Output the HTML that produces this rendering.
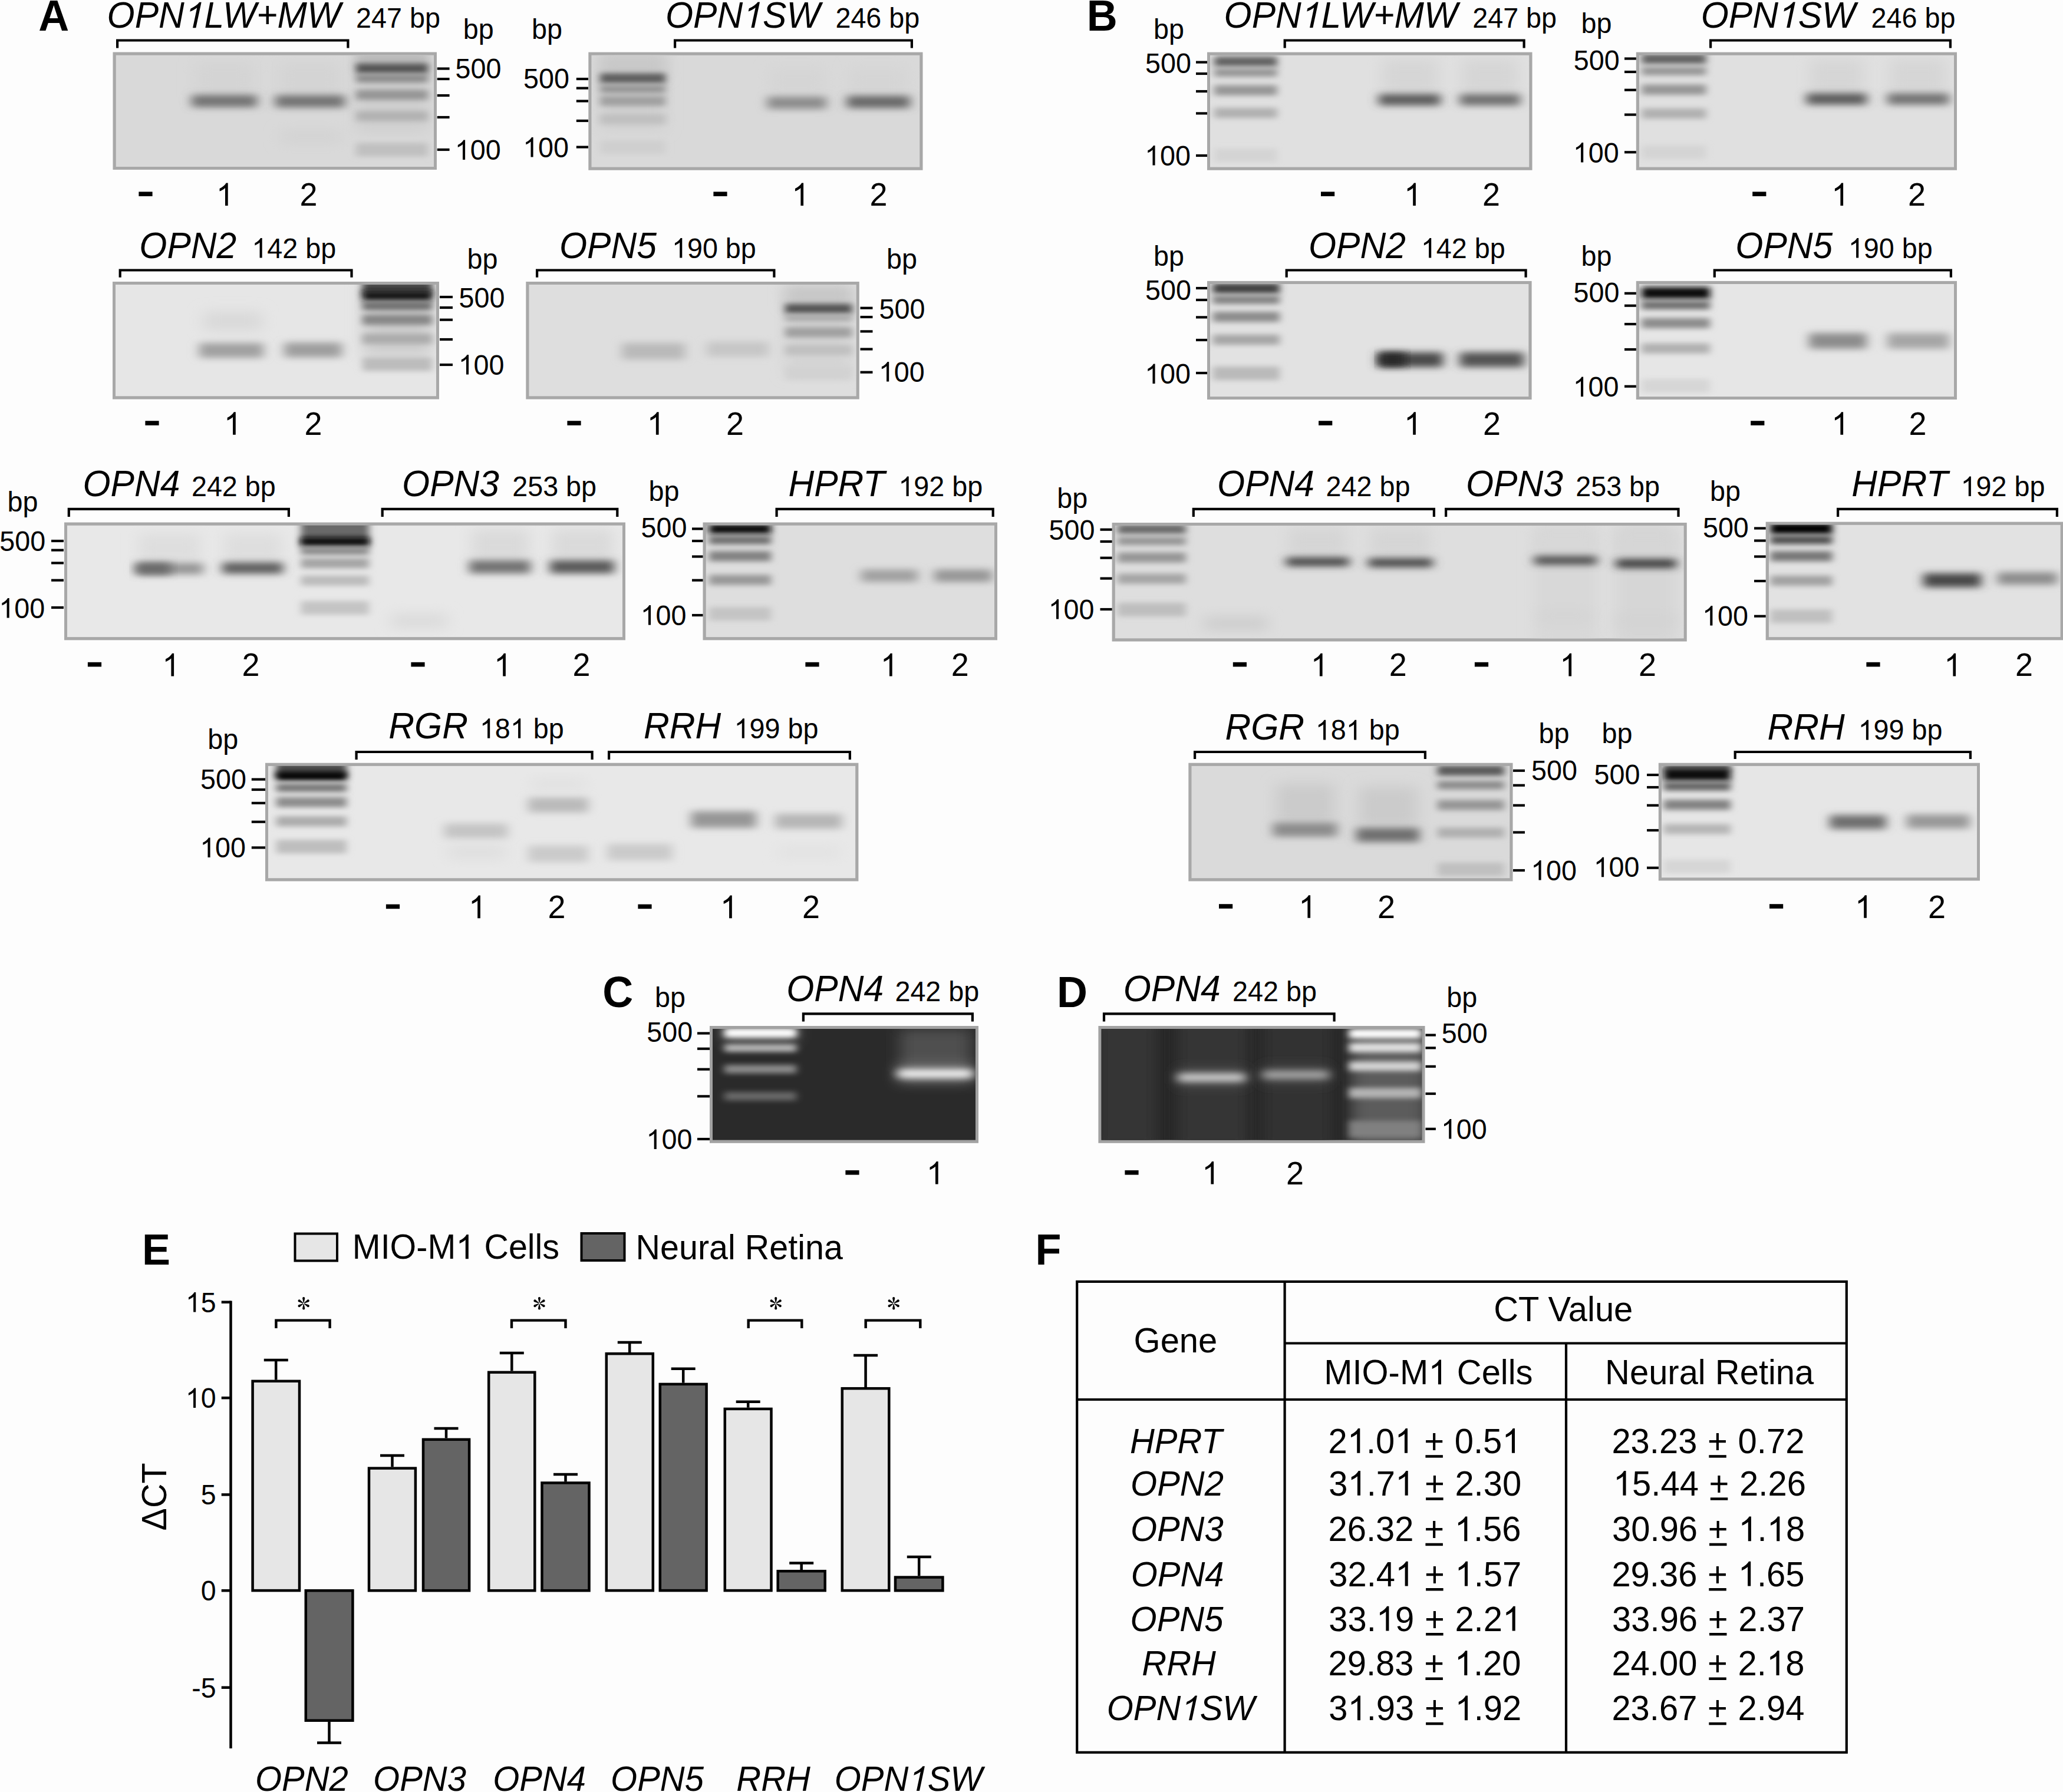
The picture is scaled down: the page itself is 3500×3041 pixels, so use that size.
<!DOCTYPE html>
<html><head><meta charset="utf-8"><title>Figure</title>
<style>html,body{margin:0;padding:0;background:#fff}svg{display:block}text{font-family:"Liberation Sans",sans-serif}</style>
</head><body>
<svg width="3500" height="3041" viewBox="0 0 3500 3041">
<defs>
<filter id="b3" x="-20%" y="-150%" width="140%" height="400%"><feGaussianBlur stdDeviation="6.5 4.2"/></filter>
<filter id="b4" x="-20%" y="-150%" width="140%" height="400%"><feGaussianBlur stdDeviation="9 6"/></filter>
<filter id="b6" x="-30%" y="-100%" width="160%" height="300%"><feGaussianBlur stdDeviation="13 11"/></filter>
</defs>
<rect width="3500" height="3041" fill="#fdfdfd"/>
<rect x="191.5" y="88.5" width="549.5" height="199.5" fill="#a8a8a8"/>
<clipPath id="c1"><rect x="196.5" y="93.5" width="539.5" height="189.5"/></clipPath>
<g clip-path="url(#c1)">
<rect x="196.5" y="93.5" width="539.5" height="189.5" fill="rgb(217,217,217)"/>
<rect x="604.0" y="75.0" width="122.0" height="150.0" fill="rgb(207,207,207)" filter="url(#b6)"/>
<rect x="604.0" y="85.6" width="122.0" height="30.8" fill="rgb(188,188,188)" filter="url(#b4)"/>
<rect x="604.0" y="107.8" width="122.0" height="17.4" fill="rgb(85,85,85)" filter="url(#b3)"/>
<rect x="604.0" y="125.8" width="122.0" height="14.5" fill="rgb(140,140,140)" filter="url(#b3)"/>
<rect x="604.0" y="152.3" width="122.0" height="17.4" fill="rgb(150,150,150)" filter="url(#b3)"/>
<rect x="604.0" y="188.3" width="122.0" height="17.4" fill="rgb(178,178,178)" filter="url(#b3)"/>
<rect x="604.0" y="242.4" width="122.0" height="23.2" fill="rgb(192,192,192)" filter="url(#b3)"/>
<rect x="330.0" y="105.0" width="102.0" height="60.0" fill="rgb(212,212,212)" filter="url(#b6)"/>
<rect x="472.0" y="105.0" width="108.0" height="60.0" fill="rgb(212,212,212)" filter="url(#b6)"/>
<rect x="325.0" y="161.0" width="111.0" height="21.0" fill="rgb(115,115,115)" filter="url(#b4)"/>
<rect x="467.0" y="161.5" width="118.0" height="21.0" fill="rgb(115,115,115)" filter="url(#b4)"/>
<rect x="475.0" y="222.0" width="105.0" height="20.0" fill="rgb(210,210,210)" filter="url(#b6)"/>
</g>
<line x1="741.7" y1="116.5" x2="762.6" y2="116.5" stroke="#000" stroke-width="4.2" stroke-linecap="butt"/>
<line x1="741.7" y1="134.0" x2="762.6" y2="134.0" stroke="#000" stroke-width="4.2" stroke-linecap="butt"/>
<line x1="741.7" y1="162.0" x2="762.6" y2="162.0" stroke="#000" stroke-width="4.2" stroke-linecap="butt"/>
<line x1="741.7" y1="199.0" x2="762.6" y2="199.0" stroke="#000" stroke-width="4.2" stroke-linecap="butt"/>
<line x1="741.7" y1="254.0" x2="762.6" y2="254.0" stroke="#000" stroke-width="4.2" stroke-linecap="butt"/>
<text transform="translate(785.8 66.0) scale(0.9756 1)" font-family="Liberation Sans, sans-serif" font-size="47.9" fill="#000">bp</text>
<text transform="translate(772.6 132.5) scale(0.9756 1)" font-family="Liberation Sans, sans-serif" font-size="47.9" fill="#000">500</text>
<path d="M763 0H583V1147Q518 1085 412 1023Q307 961 223 930V1104Q374 1175 487 1276Q600 1377 647 1472H763Z" fill="#000" transform="translate(771.7 271.1) scale(0.02280 -0.02280)"/>
<text transform="translate(797.7 271.1) scale(0.9756 1)" font-family="Liberation Sans, sans-serif" font-size="47.9" fill="#000">00</text>
<text transform="translate(181.6 47.3) scale(0.9756 1)" font-family="Liberation Sans, sans-serif" font-size="62.1" font-style="italic" fill="#000">OPN</text>
<path d="M763 0H583V1147Q518 1085 412 1023Q307 961 223 930V1104Q374 1175 487 1276Q600 1377 647 1472H763Z" fill="#000" transform="translate(309.8 47.3) skewX(-12) scale(0.02959 -0.02959)"/>
<text transform="translate(346.6 47.3) scale(0.9756 1)" font-family="Liberation Sans, sans-serif" font-size="62.1" font-style="italic" fill="#000">LW+MW</text>
<text transform="translate(604.0 47.3) scale(0.9756 1)" font-family="Liberation Sans, sans-serif" font-size="47.9" fill="#000">247 bp</text>
<path d="M199.1 81.6V68.5H590.4V81.6" fill="none" stroke="#000" stroke-width="4.2" stroke-linejoin="miter"/>
<rect x="235.4" y="325.4" width="23.2" height="7.6" fill="#000"/>
<path d="M763 0H583V1147Q518 1085 412 1023Q307 961 223 930V1104Q374 1175 487 1276Q600 1377 647 1472H763Z" transform="translate(366.7 349.0) scale(0.02622 -0.02622)"/>
<text transform="translate(508.6 349.0) scale(0.9756 1)" font-family="Liberation Sans, sans-serif" font-size="55.3" fill="#000">2</text>
<rect x="998.3" y="88.6" width="567.2" height="200.2" fill="#a8a8a8"/>
<clipPath id="c2"><rect x="1003.3" y="93.6" width="557.2" height="190.2"/></clipPath>
<g clip-path="url(#c2)">
<rect x="1003.3" y="93.6" width="557.2" height="190.2" fill="rgb(217,217,217)"/>
<rect x="1018.0" y="80.0" width="111.0" height="140.0" fill="rgb(208,208,208)" filter="url(#b6)"/>
<rect x="1018.0" y="94.0" width="111.0" height="36.0" fill="rgb(200,200,200)" filter="url(#b6)"/>
<rect x="1018.0" y="124.3" width="111.0" height="17.4" fill="rgb(95,95,95)" filter="url(#b3)"/>
<rect x="1018.0" y="143.8" width="111.0" height="14.5" fill="rgb(150,150,150)" filter="url(#b3)"/>
<rect x="1018.0" y="162.5" width="111.0" height="17.4" fill="rgb(160,160,160)" filter="url(#b3)"/>
<rect x="1018.0" y="193.5" width="111.0" height="17.4" fill="rgb(192,192,192)" filter="url(#b3)"/>
<rect x="1018.0" y="238.0" width="111.0" height="23.2" fill="rgb(207,207,207)" filter="url(#b3)"/>
<rect x="1305.0" y="115.0" width="95.0" height="50.0" fill="rgb(213,213,213)" filter="url(#b6)"/>
<rect x="1440.0" y="115.0" width="100.0" height="50.0" fill="rgb(213,213,213)" filter="url(#b6)"/>
<rect x="1301.6" y="164.0" width="100.4" height="21.0" fill="rgb(140,140,140)" filter="url(#b4)"/>
<rect x="1436.8" y="162.5" width="106.9" height="21.0" fill="rgb(105,105,105)" filter="url(#b4)"/>
</g>
<line x1="977.8" y1="134.0" x2="998.0" y2="134.0" stroke="#000" stroke-width="4.2" stroke-linecap="butt"/>
<line x1="977.8" y1="149.6" x2="998.0" y2="149.6" stroke="#000" stroke-width="4.2" stroke-linecap="butt"/>
<line x1="977.8" y1="171.5" x2="998.0" y2="171.5" stroke="#000" stroke-width="4.2" stroke-linecap="butt"/>
<line x1="977.8" y1="205.0" x2="998.0" y2="205.0" stroke="#000" stroke-width="4.2" stroke-linecap="butt"/>
<line x1="977.8" y1="249.6" x2="998.0" y2="249.6" stroke="#000" stroke-width="4.2" stroke-linecap="butt"/>
<text transform="translate(902.0 66.4) scale(0.9756 1)" font-family="Liberation Sans, sans-serif" font-size="47.9" fill="#000">bp</text>
<text transform="translate(888.0 149.5) scale(0.9756 1)" font-family="Liberation Sans, sans-serif" font-size="47.9" fill="#000">500</text>
<path d="M763 0H583V1147Q518 1085 412 1023Q307 961 223 930V1104Q374 1175 487 1276Q600 1377 647 1472H763Z" fill="#000" transform="translate(887.2 266.5) scale(0.02280 -0.02280)"/>
<text transform="translate(913.1 266.5) scale(0.9756 1)" font-family="Liberation Sans, sans-serif" font-size="47.9" fill="#000">00</text>
<text transform="translate(1129.0 47.0) scale(0.9756 1)" font-family="Liberation Sans, sans-serif" font-size="62.1" font-style="italic" fill="#000">OPN</text>
<path d="M763 0H583V1147Q518 1085 412 1023Q307 961 223 930V1104Q374 1175 487 1276Q600 1377 647 1472H763Z" fill="#000" transform="translate(1257.2 47.0) skewX(-12) scale(0.02959 -0.02959)"/>
<text transform="translate(1294.0 47.0) scale(0.9756 1)" font-family="Liberation Sans, sans-serif" font-size="62.1" font-style="italic" fill="#000">SW</text>
<text transform="translate(1417.4 47.0) scale(0.9756 1)" font-family="Liberation Sans, sans-serif" font-size="47.9" fill="#000">246 bp</text>
<path d="M1145.1 81.6V68.5H1546.9V81.6" fill="none" stroke="#000" stroke-width="4.2" stroke-linejoin="miter"/>
<rect x="1210.4" y="325.4" width="23.2" height="7.6" fill="#000"/>
<path d="M763 0H583V1147Q518 1085 412 1023Q307 961 223 930V1104Q374 1175 487 1276Q600 1377 647 1472H763Z" transform="translate(1343.1 349.0) scale(0.02622 -0.02622)"/>
<text transform="translate(1475.5 349.0) scale(0.9756 1)" font-family="Liberation Sans, sans-serif" font-size="55.3" fill="#000">2</text>
<rect x="191.0" y="478.0" width="554.0" height="199.5" fill="#a8a8a8"/>
<clipPath id="c3"><rect x="196.0" y="483.0" width="544.0" height="189.5"/></clipPath>
<g clip-path="url(#c3)">
<rect x="196.0" y="483.0" width="544.0" height="189.5" fill="rgb(230,230,230)"/>
<rect x="615.0" y="475.0" width="118.0" height="130.0" fill="rgb(205,205,205)" filter="url(#b6)"/>
<rect x="615.0" y="476.4" width="118.0" height="23.2" fill="rgb(72,72,72)" filter="url(#b3)"/>
<rect x="615.0" y="493.3" width="118.0" height="17.4" fill="rgb(18,18,18)" filter="url(#b3)"/>
<rect x="615.0" y="511.8" width="118.0" height="14.5" fill="rgb(110,110,110)" filter="url(#b3)"/>
<rect x="615.0" y="533.9" width="118.0" height="17.4" fill="rgb(135,135,135)" filter="url(#b3)"/>
<rect x="615.0" y="566.3" width="118.0" height="17.4" fill="rgb(172,172,172)" filter="url(#b3)"/>
<rect x="615.0" y="606.4" width="118.0" height="23.2" fill="rgb(188,188,188)" filter="url(#b3)"/>
<rect x="345.0" y="530.0" width="100.0" height="30.0" fill="rgb(216,216,216)" filter="url(#b6)"/>
<rect x="338.0" y="582.0" width="109.0" height="25.2" fill="rgb(160,160,160)" filter="url(#b4)"/>
<rect x="482.0" y="581.2" width="98.0" height="25.2" fill="rgb(158,158,158)" filter="url(#b4)"/>
</g>
<line x1="746.0" y1="504.0" x2="768.0" y2="504.0" stroke="#000" stroke-width="4.2" stroke-linecap="butt"/>
<line x1="746.0" y1="522.0" x2="768.0" y2="522.0" stroke="#000" stroke-width="4.2" stroke-linecap="butt"/>
<line x1="746.0" y1="542.7" x2="768.0" y2="542.7" stroke="#000" stroke-width="4.2" stroke-linecap="butt"/>
<line x1="746.0" y1="576.0" x2="768.0" y2="576.0" stroke="#000" stroke-width="4.2" stroke-linecap="butt"/>
<line x1="746.0" y1="619.0" x2="768.0" y2="619.0" stroke="#000" stroke-width="4.2" stroke-linecap="butt"/>
<text transform="translate(792.5 456.0) scale(0.9756 1)" font-family="Liberation Sans, sans-serif" font-size="47.9" fill="#000">bp</text>
<text transform="translate(778.5 522.0) scale(0.9756 1)" font-family="Liberation Sans, sans-serif" font-size="47.9" fill="#000">500</text>
<path d="M763 0H583V1147Q518 1085 412 1023Q307 961 223 930V1104Q374 1175 487 1276Q600 1377 647 1472H763Z" fill="#000" transform="translate(777.7 635.5) scale(0.02280 -0.02280)"/>
<text transform="translate(803.6 635.5) scale(0.9756 1)" font-family="Liberation Sans, sans-serif" font-size="47.9" fill="#000">00</text>
<text transform="translate(236.3 437.6) scale(0.9756 1)" font-family="Liberation Sans, sans-serif" font-size="62.1" font-style="italic" fill="#000">OPN2</text>
<path d="M763 0H583V1147Q518 1085 412 1023Q307 961 223 930V1104Q374 1175 487 1276Q600 1377 647 1472H763Z" fill="#000" transform="translate(427.3 437.6) scale(0.02280 -0.02280)"/>
<text transform="translate(453.3 437.6) scale(0.9756 1)" font-family="Liberation Sans, sans-serif" font-size="47.9" fill="#000">42 bp</text>
<path d="M203.7 470.7V458.5H596.5V470.7" fill="none" stroke="#000" stroke-width="4.2" stroke-linejoin="miter"/>
<rect x="246.4" y="714.2" width="23.2" height="7.6" fill="#000"/>
<path d="M763 0H583V1147Q518 1085 412 1023Q307 961 223 930V1104Q374 1175 487 1276Q600 1377 647 1472H763Z" transform="translate(379.8 737.8) scale(0.02622 -0.02622)"/>
<text transform="translate(516.4 737.8) scale(0.9756 1)" font-family="Liberation Sans, sans-serif" font-size="55.3" fill="#000">2</text>
<rect x="892.3" y="478.0" width="565.5" height="199.5" fill="#a8a8a8"/>
<clipPath id="c4"><rect x="897.3" y="483.0" width="555.5" height="189.5"/></clipPath>
<g clip-path="url(#c4)">
<rect x="897.3" y="483.0" width="555.5" height="189.5" fill="rgb(222,222,222)"/>
<rect x="1332.0" y="485.0" width="113.5" height="150.0" fill="rgb(212,212,212)" filter="url(#b6)"/>
<rect x="1332.0" y="485.0" width="113.5" height="34.0" fill="rgb(198,198,198)" filter="url(#b6)"/>
<rect x="1332.0" y="515.5" width="113.5" height="17.4" fill="rgb(85,85,85)" filter="url(#b3)"/>
<rect x="1332.0" y="533.7" width="113.5" height="11.6" fill="rgb(170,170,170)" filter="url(#b3)"/>
<rect x="1332.0" y="555.2" width="113.5" height="17.4" fill="rgb(160,160,160)" filter="url(#b3)"/>
<rect x="1332.0" y="585.3" width="113.5" height="17.4" fill="rgb(192,192,192)" filter="url(#b3)"/>
<rect x="1332.0" y="621.6" width="113.5" height="23.2" fill="rgb(210,210,210)" filter="url(#b3)"/>
<rect x="1055.0" y="582.0" width="107.0" height="28.0" fill="rgb(185,185,185)" filter="url(#b4)"/>
<rect x="1199.0" y="579.9" width="104.7" height="25.2" fill="rgb(198,198,198)" filter="url(#b4)"/>
</g>
<line x1="1459.5" y1="522.7" x2="1480.5" y2="522.7" stroke="#000" stroke-width="4.2" stroke-linecap="butt"/>
<line x1="1459.5" y1="538.0" x2="1480.5" y2="538.0" stroke="#000" stroke-width="4.2" stroke-linecap="butt"/>
<line x1="1459.5" y1="562.4" x2="1480.5" y2="562.4" stroke="#000" stroke-width="4.2" stroke-linecap="butt"/>
<line x1="1459.5" y1="592.5" x2="1480.5" y2="592.5" stroke="#000" stroke-width="4.2" stroke-linecap="butt"/>
<line x1="1459.5" y1="631.7" x2="1480.5" y2="631.7" stroke="#000" stroke-width="4.2" stroke-linecap="butt"/>
<text transform="translate(1504.1 456.0) scale(0.9756 1)" font-family="Liberation Sans, sans-serif" font-size="47.9" fill="#000">bp</text>
<text transform="translate(1491.6 540.5) scale(0.9756 1)" font-family="Liberation Sans, sans-serif" font-size="47.9" fill="#000">500</text>
<path d="M763 0H583V1147Q518 1085 412 1023Q307 961 223 930V1104Q374 1175 487 1276Q600 1377 647 1472H763Z" fill="#000" transform="translate(1490.8 647.5) scale(0.02280 -0.02280)"/>
<text transform="translate(1516.7 647.5) scale(0.9756 1)" font-family="Liberation Sans, sans-serif" font-size="47.9" fill="#000">00</text>
<text transform="translate(949.0 437.6) scale(0.9756 1)" font-family="Liberation Sans, sans-serif" font-size="62.1" font-style="italic" fill="#000">OPN5</text>
<path d="M763 0H583V1147Q518 1085 412 1023Q307 961 223 930V1104Q374 1175 487 1276Q600 1377 647 1472H763Z" fill="#000" transform="translate(1139.9 437.6) scale(0.02280 -0.02280)"/>
<text transform="translate(1165.9 437.6) scale(0.9756 1)" font-family="Liberation Sans, sans-serif" font-size="47.9" fill="#000">90 bp</text>
<path d="M911.1 470.7V458.5H1313.4V470.7" fill="none" stroke="#000" stroke-width="4.2" stroke-linejoin="miter"/>
<rect x="962.4" y="714.2" width="23.2" height="7.6" fill="#000"/>
<path d="M763 0H583V1147Q518 1085 412 1023Q307 961 223 930V1104Q374 1175 487 1276Q600 1377 647 1472H763Z" transform="translate(1097.6 737.8) scale(0.02622 -0.02622)"/>
<text transform="translate(1232.0 737.8) scale(0.9756 1)" font-family="Liberation Sans, sans-serif" font-size="55.3" fill="#000">2</text>
<rect x="109.0" y="886.5" width="952.0" height="199.8" fill="#a8a8a8"/>
<clipPath id="c5"><rect x="114.0" y="891.5" width="942.0" height="189.8"/></clipPath>
<g clip-path="url(#c5)">
<rect x="114.0" y="891.5" width="942.0" height="189.8" fill="rgb(232,232,232)"/>
<rect x="510.5" y="880.2" width="115.5" height="43.5" fill="rgb(105,105,105)" filter="url(#b3)"/>
<rect x="510.5" y="911.8" width="115.5" height="16.0" fill="rgb(10,10,10)" filter="url(#b3)"/>
<rect x="510.5" y="927.5" width="115.5" height="14.5" fill="rgb(140,140,140)" filter="url(#b3)"/>
<rect x="510.5" y="947.0" width="115.5" height="17.4" fill="rgb(165,165,165)" filter="url(#b3)"/>
<rect x="510.5" y="976.5" width="115.5" height="17.4" fill="rgb(188,188,188)" filter="url(#b3)"/>
<rect x="510.5" y="1019.9" width="115.5" height="23.2" fill="rgb(196,196,196)" filter="url(#b3)"/>
<rect x="235.0" y="905.0" width="105.0" height="50.0" fill="rgb(222,222,222)" filter="url(#b6)"/>
<rect x="380.0" y="905.0" width="98.0" height="50.0" fill="rgb(222,222,222)" filter="url(#b6)"/>
<rect x="800.0" y="897.5" width="98.0" height="55.0" fill="rgb(218,218,218)" filter="url(#b6)"/>
<rect x="936.0" y="897.5" width="104.0" height="55.0" fill="rgb(218,218,218)" filter="url(#b6)"/>
<rect x="231.0" y="955.2" width="113.7" height="19.6" fill="rgb(150,150,150)" filter="url(#b4)"/>
<rect x="231.0" y="955.2" width="59.0" height="19.6" fill="rgb(105,105,105)" filter="url(#b4)"/>
<rect x="377.0" y="954.2" width="103.0" height="19.6" fill="rgb(95,95,95)" filter="url(#b4)"/>
<rect x="663.0" y="1042.6" width="96.0" height="22.0" fill="rgb(217,217,217)" filter="url(#b6)"/>
<rect x="796.0" y="950.8" width="104.0" height="22.4" fill="rgb(115,115,115)" filter="url(#b4)"/>
<rect x="933.0" y="950.8" width="109.0" height="22.4" fill="rgb(90,90,90)" filter="url(#b4)"/>
</g>
<line x1="87.0" y1="918.0" x2="108.0" y2="918.0" stroke="#000" stroke-width="4.2" stroke-linecap="butt"/>
<line x1="87.0" y1="933.6" x2="108.0" y2="933.6" stroke="#000" stroke-width="4.2" stroke-linecap="butt"/>
<line x1="87.0" y1="955.4" x2="108.0" y2="955.4" stroke="#000" stroke-width="4.2" stroke-linecap="butt"/>
<line x1="87.0" y1="984.7" x2="108.0" y2="984.7" stroke="#000" stroke-width="4.2" stroke-linecap="butt"/>
<line x1="87.0" y1="1031.0" x2="108.0" y2="1031.0" stroke="#000" stroke-width="4.2" stroke-linecap="butt"/>
<text transform="translate(12.5 868.0) scale(0.9756 1)" font-family="Liberation Sans, sans-serif" font-size="47.9" fill="#000">bp</text>
<text transform="translate(-0.8 935.1) scale(0.9756 1)" font-family="Liberation Sans, sans-serif" font-size="47.9" fill="#000">500</text>
<path d="M763 0H583V1147Q518 1085 412 1023Q307 961 223 930V1104Q374 1175 487 1276Q600 1377 647 1472H763Z" fill="#000" transform="translate(-1.7 1048.5) scale(0.02280 -0.02280)"/>
<text transform="translate(24.3 1048.5) scale(0.9756 1)" font-family="Liberation Sans, sans-serif" font-size="47.9" fill="#000">00</text>
<text transform="translate(140.5 842.0) scale(0.9756 1)" font-family="Liberation Sans, sans-serif" font-size="62.1" font-style="italic" fill="#000">OPN4</text>
<text transform="translate(324.9 842.0) scale(0.9756 1)" font-family="Liberation Sans, sans-serif" font-size="47.9" fill="#000">242 bp</text>
<text transform="translate(682.1 842.0) scale(0.9756 1)" font-family="Liberation Sans, sans-serif" font-size="62.1" font-style="italic" fill="#000">OPN3</text>
<text transform="translate(869.2 842.0) scale(0.9756 1)" font-family="Liberation Sans, sans-serif" font-size="47.9" fill="#000">253 bp</text>
<path d="M116.8 877.0V863.8H489.9V877.0" fill="none" stroke="#000" stroke-width="4.2" stroke-linejoin="miter"/>
<path d="M648.7 877.0V863.8H1047.3V877.0" fill="none" stroke="#000" stroke-width="4.2" stroke-linejoin="miter"/>
<rect x="148.9" y="1123.8" width="23.2" height="7.6" fill="#000"/>
<path d="M763 0H583V1147Q518 1085 412 1023Q307 961 223 930V1104Q374 1175 487 1276Q600 1377 647 1472H763Z" transform="translate(275.1 1147.4) scale(0.02622 -0.02622)"/>
<text transform="translate(410.4 1147.4) scale(0.9756 1)" font-family="Liberation Sans, sans-serif" font-size="55.3" fill="#000">2</text>
<rect x="697.4" y="1123.8" width="23.2" height="7.6" fill="#000"/>
<path d="M763 0H583V1147Q518 1085 412 1023Q307 961 223 930V1104Q374 1175 487 1276Q600 1377 647 1472H763Z" transform="translate(837.9 1147.4) scale(0.02622 -0.02622)"/>
<text transform="translate(971.6 1147.4) scale(0.9756 1)" font-family="Liberation Sans, sans-serif" font-size="55.3" fill="#000">2</text>
<rect x="1192.5" y="886.5" width="499.5" height="199.8" fill="#a8a8a8"/>
<clipPath id="c6"><rect x="1197.5" y="891.5" width="489.5" height="189.8"/></clipPath>
<g clip-path="url(#c6)">
<rect x="1197.5" y="891.5" width="489.5" height="189.8" fill="rgb(222,222,222)"/>
<rect x="1203.0" y="889.0" width="105.0" height="17.4" fill="rgb(15,15,15)" filter="url(#b3)"/>
<rect x="1203.0" y="909.2" width="105.0" height="14.5" fill="rgb(110,110,110)" filter="url(#b3)"/>
<rect x="1203.0" y="935.1" width="105.0" height="17.4" fill="rgb(130,130,130)" filter="url(#b3)"/>
<rect x="1203.0" y="975.4" width="105.0" height="17.4" fill="rgb(152,152,152)" filter="url(#b3)"/>
<rect x="1203.0" y="1029.9" width="105.0" height="23.2" fill="rgb(196,196,196)" filter="url(#b3)"/>
<rect x="1460.8" y="966.5" width="96.0" height="21.0" fill="rgb(160,160,160)" filter="url(#b4)"/>
<rect x="1585.0" y="966.5" width="98.0" height="21.0" fill="rgb(150,150,150)" filter="url(#b4)"/>
</g>
<line x1="1174.0" y1="897.4" x2="1192.5" y2="897.4" stroke="#000" stroke-width="4.2" stroke-linecap="butt"/>
<line x1="1174.0" y1="918.0" x2="1192.5" y2="918.0" stroke="#000" stroke-width="4.2" stroke-linecap="butt"/>
<line x1="1174.0" y1="944.5" x2="1192.5" y2="944.5" stroke="#000" stroke-width="4.2" stroke-linecap="butt"/>
<line x1="1174.0" y1="984.7" x2="1192.5" y2="984.7" stroke="#000" stroke-width="4.2" stroke-linecap="butt"/>
<line x1="1174.0" y1="1044.0" x2="1192.5" y2="1044.0" stroke="#000" stroke-width="4.2" stroke-linecap="butt"/>
<text transform="translate(1100.5 849.5) scale(0.9756 1)" font-family="Liberation Sans, sans-serif" font-size="47.9" fill="#000">bp</text>
<text transform="translate(1087.5 912.0) scale(0.9756 1)" font-family="Liberation Sans, sans-serif" font-size="47.9" fill="#000">500</text>
<path d="M763 0H583V1147Q518 1085 412 1023Q307 961 223 930V1104Q374 1175 487 1276Q600 1377 647 1472H763Z" fill="#000" transform="translate(1086.7 1060.5) scale(0.02280 -0.02280)"/>
<text transform="translate(1112.6 1060.5) scale(0.9756 1)" font-family="Liberation Sans, sans-serif" font-size="47.9" fill="#000">00</text>
<text transform="translate(1337.4 842.0) scale(0.9756 1)" font-family="Liberation Sans, sans-serif" font-size="62.1" font-style="italic" fill="#000">HPRT</text>
<path d="M763 0H583V1147Q518 1085 412 1023Q307 961 223 930V1104Q374 1175 487 1276Q600 1377 647 1472H763Z" fill="#000" transform="translate(1524.3 842.0) scale(0.02280 -0.02280)"/>
<text transform="translate(1550.3 842.0) scale(0.9756 1)" font-family="Liberation Sans, sans-serif" font-size="47.9" fill="#000">92 bp</text>
<path d="M1317.6 877.0V863.8H1684.7V877.0" fill="none" stroke="#000" stroke-width="4.2" stroke-linejoin="miter"/>
<rect x="1366.4" y="1123.8" width="23.2" height="7.6" fill="#000"/>
<path d="M763 0H583V1147Q518 1085 412 1023Q307 961 223 930V1104Q374 1175 487 1276Q600 1377 647 1472H763Z" transform="translate(1493.7 1147.4) scale(0.02622 -0.02622)"/>
<text transform="translate(1613.8 1147.4) scale(0.9756 1)" font-family="Liberation Sans, sans-serif" font-size="55.3" fill="#000">2</text>
<rect x="450.0" y="1294.7" width="1006.4" height="200.7" fill="#a8a8a8"/>
<clipPath id="c7"><rect x="455.0" y="1299.7" width="996.4" height="190.7"/></clipPath>
<g clip-path="url(#c7)">
<rect x="455.0" y="1299.7" width="996.4" height="190.7" fill="rgb(232,232,232)"/>
<rect x="468.7" y="1293.0" width="119.3" height="26.1" fill="rgb(80,80,80)" filter="url(#b3)"/>
<rect x="468.7" y="1309.8" width="119.3" height="14.5" fill="rgb(5,5,5)" filter="url(#b3)"/>
<rect x="468.7" y="1329.5" width="119.3" height="14.5" fill="rgb(120,120,120)" filter="url(#b3)"/>
<rect x="468.7" y="1352.5" width="119.3" height="17.4" fill="rgb(140,140,140)" filter="url(#b3)"/>
<rect x="468.7" y="1385.1" width="119.3" height="17.4" fill="rgb(172,172,172)" filter="url(#b3)"/>
<rect x="468.7" y="1425.1" width="119.3" height="23.2" fill="rgb(190,190,190)" filter="url(#b3)"/>
<rect x="753.7" y="1397.4" width="107.6" height="25.2" fill="rgb(196,196,196)" filter="url(#b4)"/>
<rect x="760.0" y="1437.0" width="98.0" height="18.0" fill="rgb(220,220,220)" filter="url(#b6)"/>
<rect x="896.0" y="1353.4" width="102.0" height="25.2" fill="rgb(186,186,186)" filter="url(#b4)"/>
<rect x="896.0" y="1435.0" width="102.0" height="28.0" fill="rgb(202,202,202)" filter="url(#b4)"/>
<rect x="900.0" y="1324.0" width="95.0" height="14.0" fill="rgb(222,222,222)" filter="url(#b6)"/>
<rect x="1030.0" y="1432.0" width="110.5" height="28.0" fill="rgb(202,202,202)" filter="url(#b4)"/>
<rect x="1172.5" y="1376.7" width="110.5" height="28.0" fill="rgb(150,150,150)" filter="url(#b4)"/>
<rect x="1315.0" y="1381.0" width="113.4" height="25.2" fill="rgb(182,182,182)" filter="url(#b4)"/>
<rect x="1320.0" y="1438.0" width="105.0" height="16.0" fill="rgb(224,224,224)" filter="url(#b6)"/>
</g>
<line x1="426.8" y1="1322.6" x2="450.0" y2="1322.6" stroke="#000" stroke-width="4.2" stroke-linecap="butt"/>
<line x1="426.8" y1="1340.0" x2="450.0" y2="1340.0" stroke="#000" stroke-width="4.2" stroke-linecap="butt"/>
<line x1="426.8" y1="1362.8" x2="450.0" y2="1362.8" stroke="#000" stroke-width="4.2" stroke-linecap="butt"/>
<line x1="426.8" y1="1394.7" x2="450.0" y2="1394.7" stroke="#000" stroke-width="4.2" stroke-linecap="butt"/>
<line x1="426.8" y1="1438.4" x2="450.0" y2="1438.4" stroke="#000" stroke-width="4.2" stroke-linecap="butt"/>
<text transform="translate(352.3 1270.7) scale(0.9756 1)" font-family="Liberation Sans, sans-serif" font-size="47.9" fill="#000">bp</text>
<text transform="translate(340.0 1338.5) scale(0.9756 1)" font-family="Liberation Sans, sans-serif" font-size="47.9" fill="#000">500</text>
<path d="M763 0H583V1147Q518 1085 412 1023Q307 961 223 930V1104Q374 1175 487 1276Q600 1377 647 1472H763Z" fill="#000" transform="translate(339.2 1455.0) scale(0.02280 -0.02280)"/>
<text transform="translate(365.1 1455.0) scale(0.9756 1)" font-family="Liberation Sans, sans-serif" font-size="47.9" fill="#000">00</text>
<text transform="translate(659.3 1252.8) scale(0.9756 1)" font-family="Liberation Sans, sans-serif" font-size="62.1" font-style="italic" fill="#000">RGR</text>
<path d="M763 0H583V1147Q518 1085 412 1023Q307 961 223 930V1104Q374 1175 487 1276Q600 1377 647 1472H763Z" fill="#000" transform="translate(813.8 1252.8) scale(0.02280 -0.02280)"/>
<text transform="translate(839.8 1252.8) scale(0.9756 1)" font-family="Liberation Sans, sans-serif" font-size="47.9" fill="#000">8</text>
<path d="M763 0H583V1147Q518 1085 412 1023Q307 961 223 930V1104Q374 1175 487 1276Q600 1377 647 1472H763Z" fill="#000" transform="translate(865.8 1252.8) scale(0.02280 -0.02280)"/>
<text transform="translate(904.7 1252.8) scale(0.9756 1)" font-family="Liberation Sans, sans-serif" font-size="47.9" fill="#000">bp</text>
<text transform="translate(1091.9 1252.8) scale(0.9756 1)" font-family="Liberation Sans, sans-serif" font-size="62.1" font-style="italic" fill="#000">RRH</text>
<path d="M763 0H583V1147Q518 1085 412 1023Q307 961 223 930V1104Q374 1175 487 1276Q600 1377 647 1472H763Z" fill="#000" transform="translate(1245.5 1252.8) scale(0.02280 -0.02280)"/>
<text transform="translate(1271.5 1252.8) scale(0.9756 1)" font-family="Liberation Sans, sans-serif" font-size="47.9" fill="#000">99 bp</text>
<path d="M604.6 1289.0V1276.0H1004.6V1289.0" fill="none" stroke="#000" stroke-width="4.2" stroke-linejoin="miter"/>
<path d="M1033.1 1289.0V1276.0H1441.9V1289.0" fill="none" stroke="#000" stroke-width="4.2" stroke-linejoin="miter"/>
<rect x="654.9" y="1534.6" width="23.2" height="7.6" fill="#000"/>
<path d="M763 0H583V1147Q518 1085 412 1023Q307 961 223 930V1104Q374 1175 487 1276Q600 1377 647 1472H763Z" transform="translate(794.9 1558.2) scale(0.02622 -0.02622)"/>
<text transform="translate(929.5 1558.2) scale(0.9756 1)" font-family="Liberation Sans, sans-serif" font-size="55.3" fill="#000">2</text>
<rect x="1082.4" y="1534.6" width="23.2" height="7.6" fill="#000"/>
<path d="M763 0H583V1147Q518 1085 412 1023Q307 961 223 930V1104Q374 1175 487 1276Q600 1377 647 1472H763Z" transform="translate(1221.8 1558.2) scale(0.02622 -0.02622)"/>
<text transform="translate(1361.0 1558.2) scale(0.9756 1)" font-family="Liberation Sans, sans-serif" font-size="55.3" fill="#000">2</text>
<rect x="2048.0" y="88.6" width="551.5" height="200.2" fill="#a8a8a8"/>
<clipPath id="c8"><rect x="2053.0" y="93.6" width="541.5" height="190.2"/></clipPath>
<g clip-path="url(#c8)">
<rect x="2053.0" y="93.6" width="541.5" height="190.2" fill="rgb(224,224,224)"/>
<rect x="2060.0" y="95.8" width="106.7" height="17.4" fill="rgb(100,100,100)" filter="url(#b3)"/>
<rect x="2060.0" y="115.8" width="106.7" height="14.5" fill="rgb(150,150,150)" filter="url(#b3)"/>
<rect x="2060.0" y="144.5" width="106.7" height="17.4" fill="rgb(150,150,150)" filter="url(#b3)"/>
<rect x="2060.0" y="183.0" width="106.7" height="17.4" fill="rgb(176,176,176)" filter="url(#b3)"/>
<rect x="2060.0" y="251.9" width="106.7" height="23.2" fill="rgb(212,212,212)" filter="url(#b3)"/>
<rect x="2345.0" y="100.0" width="95.0" height="60.0" fill="rgb(214,214,214)" filter="url(#b6)"/>
<rect x="2480.0" y="100.0" width="95.0" height="60.0" fill="rgb(214,214,214)" filter="url(#b6)"/>
<rect x="2339.0" y="159.5" width="104.7" height="19.6" fill="rgb(92,92,92)" filter="url(#b4)"/>
<rect x="2476.4" y="159.5" width="102.6" height="19.6" fill="rgb(112,112,112)" filter="url(#b4)"/>
</g>
<line x1="2029.0" y1="105.6" x2="2048.0" y2="105.6" stroke="#000" stroke-width="4.2" stroke-linecap="butt"/>
<line x1="2029.0" y1="125.0" x2="2048.0" y2="125.0" stroke="#000" stroke-width="4.2" stroke-linecap="butt"/>
<line x1="2029.0" y1="155.0" x2="2048.0" y2="155.0" stroke="#000" stroke-width="4.2" stroke-linecap="butt"/>
<line x1="2029.0" y1="192.4" x2="2048.0" y2="192.4" stroke="#000" stroke-width="4.2" stroke-linecap="butt"/>
<line x1="2029.0" y1="264.0" x2="2048.0" y2="264.0" stroke="#000" stroke-width="4.2" stroke-linecap="butt"/>
<text transform="translate(1956.9 66.4) scale(0.9756 1)" font-family="Liberation Sans, sans-serif" font-size="47.9" fill="#000">bp</text>
<text transform="translate(1943.0 123.5) scale(0.9756 1)" font-family="Liberation Sans, sans-serif" font-size="47.9" fill="#000">500</text>
<path d="M763 0H583V1147Q518 1085 412 1023Q307 961 223 930V1104Q374 1175 487 1276Q600 1377 647 1472H763Z" fill="#000" transform="translate(1942.2 280.5) scale(0.02280 -0.02280)"/>
<text transform="translate(1968.1 280.5) scale(0.9756 1)" font-family="Liberation Sans, sans-serif" font-size="47.9" fill="#000">00</text>
<text transform="translate(2076.6 47.0) scale(0.9756 1)" font-family="Liberation Sans, sans-serif" font-size="62.1" font-style="italic" fill="#000">OPN</text>
<path d="M763 0H583V1147Q518 1085 412 1023Q307 961 223 930V1104Q374 1175 487 1276Q600 1377 647 1472H763Z" fill="#000" transform="translate(2204.8 47.0) skewX(-12) scale(0.02959 -0.02959)"/>
<text transform="translate(2241.6 47.0) scale(0.9756 1)" font-family="Liberation Sans, sans-serif" font-size="62.1" font-style="italic" fill="#000">LW+MW</text>
<text transform="translate(2498.2 47.0) scale(0.9756 1)" font-family="Liberation Sans, sans-serif" font-size="47.9" fill="#000">247 bp</text>
<path d="M2179.7 81.6V68.5H2585.6V81.6" fill="none" stroke="#000" stroke-width="4.2" stroke-linejoin="miter"/>
<rect x="2241.0" y="325.4" width="23.2" height="7.6" fill="#000"/>
<path d="M763 0H583V1147Q518 1085 412 1023Q307 961 223 930V1104Q374 1175 487 1276Q600 1377 647 1472H763Z" transform="translate(2381.9 349.0) scale(0.02622 -0.02622)"/>
<text transform="translate(2515.0 349.0) scale(0.9756 1)" font-family="Liberation Sans, sans-serif" font-size="55.3" fill="#000">2</text>
<rect x="2775.8" y="88.6" width="544.2" height="200.2" fill="#a8a8a8"/>
<clipPath id="c9"><rect x="2780.8" y="93.6" width="534.2" height="190.2"/></clipPath>
<g clip-path="url(#c9)">
<rect x="2780.8" y="93.6" width="534.2" height="190.2" fill="rgb(224,224,224)"/>
<rect x="2785.4" y="91.3" width="109.1" height="17.4" fill="rgb(100,100,100)" filter="url(#b3)"/>
<rect x="2785.4" y="113.2" width="109.1" height="14.5" fill="rgb(150,150,150)" filter="url(#b3)"/>
<rect x="2785.4" y="143.4" width="109.1" height="17.4" fill="rgb(150,150,150)" filter="url(#b3)"/>
<rect x="2785.4" y="184.1" width="109.1" height="17.4" fill="rgb(176,176,176)" filter="url(#b3)"/>
<rect x="2785.4" y="246.5" width="109.1" height="23.2" fill="rgb(212,212,212)" filter="url(#b3)"/>
<rect x="3070.0" y="100.0" width="92.0" height="60.0" fill="rgb(214,214,214)" filter="url(#b6)"/>
<rect x="3206.0" y="100.0" width="96.0" height="60.0" fill="rgb(214,214,214)" filter="url(#b6)"/>
<rect x="3064.7" y="158.2" width="102.3" height="19.6" fill="rgb(92,92,92)" filter="url(#b4)"/>
<rect x="3202.0" y="158.2" width="104.8" height="19.6" fill="rgb(115,115,115)" filter="url(#b4)"/>
</g>
<line x1="2756.0" y1="99.5" x2="2775.8" y2="99.5" stroke="#000" stroke-width="4.2" stroke-linecap="butt"/>
<line x1="2756.0" y1="122.0" x2="2775.8" y2="122.0" stroke="#000" stroke-width="4.2" stroke-linecap="butt"/>
<line x1="2756.0" y1="152.7" x2="2775.8" y2="152.7" stroke="#000" stroke-width="4.2" stroke-linecap="butt"/>
<line x1="2756.0" y1="194.6" x2="2775.8" y2="194.6" stroke="#000" stroke-width="4.2" stroke-linecap="butt"/>
<line x1="2756.0" y1="258.3" x2="2775.8" y2="258.3" stroke="#000" stroke-width="4.2" stroke-linecap="butt"/>
<text transform="translate(2682.5 55.5) scale(0.9756 1)" font-family="Liberation Sans, sans-serif" font-size="47.9" fill="#000">bp</text>
<text transform="translate(2669.7 118.5) scale(0.9756 1)" font-family="Liberation Sans, sans-serif" font-size="47.9" fill="#000">500</text>
<path d="M763 0H583V1147Q518 1085 412 1023Q307 961 223 930V1104Q374 1175 487 1276Q600 1377 647 1472H763Z" fill="#000" transform="translate(2668.8 275.5) scale(0.02280 -0.02280)"/>
<text transform="translate(2694.8 275.5) scale(0.9756 1)" font-family="Liberation Sans, sans-serif" font-size="47.9" fill="#000">00</text>
<text transform="translate(2885.7 47.0) scale(0.9756 1)" font-family="Liberation Sans, sans-serif" font-size="62.1" font-style="italic" fill="#000">OPN</text>
<path d="M763 0H583V1147Q518 1085 412 1023Q307 961 223 930V1104Q374 1175 487 1276Q600 1377 647 1472H763Z" fill="#000" transform="translate(3013.9 47.0) skewX(-12) scale(0.02959 -0.02959)"/>
<text transform="translate(3050.7 47.0) scale(0.9756 1)" font-family="Liberation Sans, sans-serif" font-size="62.1" font-style="italic" fill="#000">SW</text>
<text transform="translate(3174.5 47.0) scale(0.9756 1)" font-family="Liberation Sans, sans-serif" font-size="47.9" fill="#000">246 bp</text>
<path d="M2902.1 81.6V68.5H3308.9V81.6" fill="none" stroke="#000" stroke-width="4.2" stroke-linejoin="miter"/>
<rect x="2973.2" y="325.4" width="23.2" height="7.6" fill="#000"/>
<path d="M763 0H583V1147Q518 1085 412 1023Q307 961 223 930V1104Q374 1175 487 1276Q600 1377 647 1472H763Z" transform="translate(3107.1 349.0) scale(0.02622 -0.02622)"/>
<text transform="translate(3237.0 349.0) scale(0.9756 1)" font-family="Liberation Sans, sans-serif" font-size="55.3" fill="#000">2</text>
<rect x="2048.0" y="476.9" width="550.6" height="201.1" fill="#a8a8a8"/>
<clipPath id="c10"><rect x="2053.0" y="481.9" width="540.6" height="191.1"/></clipPath>
<g clip-path="url(#c10)">
<rect x="2053.0" y="481.9" width="540.6" height="191.1" fill="rgb(226,226,226)"/>
<rect x="2057.6" y="480.8" width="113.4" height="17.4" fill="rgb(65,65,65)" filter="url(#b3)"/>
<rect x="2057.6" y="501.4" width="113.4" height="14.5" fill="rgb(130,130,130)" filter="url(#b3)"/>
<rect x="2057.6" y="529.0" width="113.4" height="17.4" fill="rgb(140,140,140)" filter="url(#b3)"/>
<rect x="2057.6" y="567.8" width="113.4" height="17.4" fill="rgb(166,166,166)" filter="url(#b3)"/>
<rect x="2057.6" y="621.9" width="113.4" height="23.2" fill="rgb(186,186,186)" filter="url(#b3)"/>
<rect x="2336.8" y="597.8" width="111.2" height="25.2" fill="rgb(72,72,72)" filter="url(#b4)"/>
<rect x="2340.0" y="598.8" width="45.0" height="22.4" fill="rgb(40,40,40)" filter="url(#b4)"/>
<rect x="2476.4" y="597.8" width="109.1" height="25.2" fill="rgb(82,82,82)" filter="url(#b4)"/>
</g>
<line x1="2029.0" y1="489.0" x2="2048.0" y2="489.0" stroke="#000" stroke-width="4.2" stroke-linecap="butt"/>
<line x1="2029.0" y1="509.0" x2="2048.0" y2="509.0" stroke="#000" stroke-width="4.2" stroke-linecap="butt"/>
<line x1="2029.0" y1="538.4" x2="2048.0" y2="538.4" stroke="#000" stroke-width="4.2" stroke-linecap="butt"/>
<line x1="2029.0" y1="577.0" x2="2048.0" y2="577.0" stroke="#000" stroke-width="4.2" stroke-linecap="butt"/>
<line x1="2029.0" y1="633.0" x2="2048.0" y2="633.0" stroke="#000" stroke-width="4.2" stroke-linecap="butt"/>
<text transform="translate(1956.9 450.8) scale(0.9756 1)" font-family="Liberation Sans, sans-serif" font-size="47.9" fill="#000">bp</text>
<text transform="translate(1943.0 508.9) scale(0.9756 1)" font-family="Liberation Sans, sans-serif" font-size="47.9" fill="#000">500</text>
<path d="M763 0H583V1147Q518 1085 412 1023Q307 961 223 930V1104Q374 1175 487 1276Q600 1377 647 1472H763Z" fill="#000" transform="translate(1942.2 651.1) scale(0.02280 -0.02280)"/>
<text transform="translate(1968.1 651.1) scale(0.9756 1)" font-family="Liberation Sans, sans-serif" font-size="47.9" fill="#000">00</text>
<text transform="translate(2219.9 437.6) scale(0.9756 1)" font-family="Liberation Sans, sans-serif" font-size="62.1" font-style="italic" fill="#000">OPN2</text>
<path d="M763 0H583V1147Q518 1085 412 1023Q307 961 223 930V1104Q374 1175 487 1276Q600 1377 647 1472H763Z" fill="#000" transform="translate(2410.8 437.6) scale(0.02280 -0.02280)"/>
<text transform="translate(2436.8 437.6) scale(0.9756 1)" font-family="Liberation Sans, sans-serif" font-size="47.9" fill="#000">42 bp</text>
<path d="M2182.7 470.7V458.5H2588.6V470.7" fill="none" stroke="#000" stroke-width="4.2" stroke-linejoin="miter"/>
<rect x="2237.1" y="714.2" width="23.2" height="7.6" fill="#000"/>
<path d="M763 0H583V1147Q518 1085 412 1023Q307 961 223 930V1104Q374 1175 487 1276Q600 1377 647 1472H763Z" transform="translate(2381.9 737.8) scale(0.02622 -0.02622)"/>
<text transform="translate(2516.0 737.8) scale(0.9756 1)" font-family="Liberation Sans, sans-serif" font-size="55.3" fill="#000">2</text>
<rect x="2775.8" y="476.9" width="544.2" height="201.1" fill="#a8a8a8"/>
<clipPath id="c11"><rect x="2780.8" y="481.9" width="534.2" height="191.1"/></clipPath>
<g clip-path="url(#c11)">
<rect x="2780.8" y="481.9" width="534.2" height="191.1" fill="rgb(230,230,230)"/>
<rect x="2785.0" y="487.1" width="116.0" height="20.3" fill="rgb(15,15,15)" filter="url(#b3)"/>
<rect x="2785.0" y="510.6" width="116.0" height="14.5" fill="rgb(110,110,110)" filter="url(#b3)"/>
<rect x="2785.0" y="539.7" width="116.0" height="17.4" fill="rgb(140,140,140)" filter="url(#b3)"/>
<rect x="2785.0" y="582.5" width="116.0" height="17.4" fill="rgb(176,176,176)" filter="url(#b3)"/>
<rect x="2785.0" y="643.1" width="116.0" height="23.2" fill="rgb(214,214,214)" filter="url(#b3)"/>
<rect x="3069.0" y="565.2" width="98.0" height="26.6" fill="rgb(140,140,140)" filter="url(#b4)"/>
<rect x="3202.0" y="565.2" width="104.8" height="26.6" fill="rgb(166,166,166)" filter="url(#b4)"/>
</g>
<line x1="2756.0" y1="497.8" x2="2775.8" y2="497.8" stroke="#000" stroke-width="4.2" stroke-linecap="butt"/>
<line x1="2756.0" y1="518.7" x2="2775.8" y2="518.7" stroke="#000" stroke-width="4.2" stroke-linecap="butt"/>
<line x1="2756.0" y1="550.0" x2="2775.8" y2="550.0" stroke="#000" stroke-width="4.2" stroke-linecap="butt"/>
<line x1="2756.0" y1="593.0" x2="2775.8" y2="593.0" stroke="#000" stroke-width="4.2" stroke-linecap="butt"/>
<line x1="2756.0" y1="655.7" x2="2775.8" y2="655.7" stroke="#000" stroke-width="4.2" stroke-linecap="butt"/>
<text transform="translate(2682.5 450.8) scale(0.9756 1)" font-family="Liberation Sans, sans-serif" font-size="47.9" fill="#000">bp</text>
<text transform="translate(2669.5 512.5) scale(0.9756 1)" font-family="Liberation Sans, sans-serif" font-size="47.9" fill="#000">500</text>
<path d="M763 0H583V1147Q518 1085 412 1023Q307 961 223 930V1104Q374 1175 487 1276Q600 1377 647 1472H763Z" fill="#000" transform="translate(2668.7 673.0) scale(0.02280 -0.02280)"/>
<text transform="translate(2694.6 673.0) scale(0.9756 1)" font-family="Liberation Sans, sans-serif" font-size="47.9" fill="#000">00</text>
<text transform="translate(2944.3 437.6) scale(0.9756 1)" font-family="Liberation Sans, sans-serif" font-size="62.1" font-style="italic" fill="#000">OPN5</text>
<path d="M763 0H583V1147Q518 1085 412 1023Q307 961 223 930V1104Q374 1175 487 1276Q600 1377 647 1472H763Z" fill="#000" transform="translate(3135.8 437.6) scale(0.02280 -0.02280)"/>
<text transform="translate(3161.8 437.6) scale(0.9756 1)" font-family="Liberation Sans, sans-serif" font-size="47.9" fill="#000">90 bp</text>
<path d="M2908.8 470.7V458.5H3309.9V470.7" fill="none" stroke="#000" stroke-width="4.2" stroke-linejoin="miter"/>
<rect x="2970.2" y="714.2" width="23.2" height="7.6" fill="#000"/>
<path d="M763 0H583V1147Q518 1085 412 1023Q307 961 223 930V1104Q374 1175 487 1276Q600 1377 647 1472H763Z" transform="translate(3107.1 737.8) scale(0.02622 -0.02622)"/>
<text transform="translate(3238.6 737.8) scale(0.9756 1)" font-family="Liberation Sans, sans-serif" font-size="55.3" fill="#000">2</text>
<rect x="1886.6" y="887.0" width="975.2" height="201.5" fill="#a8a8a8"/>
<clipPath id="c12"><rect x="1891.6" y="892.0" width="965.2" height="191.5"/></clipPath>
<g clip-path="url(#c12)">
<rect x="1891.6" y="892.0" width="965.2" height="191.5" fill="rgb(222,222,222)"/>
<rect x="1896.0" y="890.1" width="115.8" height="16.0" fill="rgb(105,105,105)" filter="url(#b3)"/>
<rect x="1896.0" y="910.8" width="115.8" height="14.5" fill="rgb(150,150,150)" filter="url(#b3)"/>
<rect x="1896.0" y="937.4" width="115.8" height="17.4" fill="rgb(150,150,150)" filter="url(#b3)"/>
<rect x="1896.0" y="973.4" width="115.8" height="17.4" fill="rgb(165,165,165)" filter="url(#b3)"/>
<rect x="1896.0" y="1022.9" width="115.8" height="23.2" fill="rgb(190,190,190)" filter="url(#b3)"/>
<rect x="2186.0" y="895.0" width="98.0" height="50.0" fill="rgb(213,213,213)" filter="url(#b6)"/>
<rect x="2325.0" y="895.0" width="101.0" height="50.0" fill="rgb(213,213,213)" filter="url(#b6)"/>
<rect x="2607.0" y="893.0" width="98.0" height="50.0" fill="rgb(213,213,213)" filter="url(#b6)"/>
<rect x="2745.0" y="893.0" width="95.0" height="50.0" fill="rgb(211,211,211)" filter="url(#b6)"/>
<rect x="2603.0" y="900.0" width="106.0" height="200.0" fill="rgb(216,216,216)" filter="url(#b6)"/>
<rect x="2741.8" y="900.0" width="102.2" height="200.0" fill="rgb(214,214,214)" filter="url(#b6)"/>
<rect x="2610.0" y="1038.0" width="90.0" height="16.0" fill="rgb(211,211,211)" filter="url(#b6)"/>
<rect x="2042.0" y="1048.0" width="109.0" height="20.0" fill="rgb(202,202,202)" filter="url(#b6)"/>
<rect x="2182.0" y="945.7" width="106.8" height="15.4" fill="rgb(72,72,72)" filter="url(#b4)"/>
<rect x="2321.5" y="947.3" width="109.1" height="15.4" fill="rgb(72,72,72)" filter="url(#b4)"/>
<rect x="2603.0" y="943.3" width="106.0" height="15.4" fill="rgb(82,82,82)" filter="url(#b4)"/>
<rect x="2741.8" y="948.7" width="102.2" height="15.4" fill="rgb(62,62,62)" filter="url(#b4)"/>
<rect x="2741.8" y="1042.6" width="102.2" height="22.0" fill="rgb(211,211,211)" filter="url(#b6)"/>
</g>
<line x1="1866.5" y1="898.7" x2="1886.6" y2="898.7" stroke="#000" stroke-width="4.2" stroke-linecap="butt"/>
<line x1="1866.5" y1="919.0" x2="1886.6" y2="919.0" stroke="#000" stroke-width="4.2" stroke-linecap="butt"/>
<line x1="1866.5" y1="946.7" x2="1886.6" y2="946.7" stroke="#000" stroke-width="4.2" stroke-linecap="butt"/>
<line x1="1866.5" y1="981.6" x2="1886.6" y2="981.6" stroke="#000" stroke-width="4.2" stroke-linecap="butt"/>
<line x1="1866.5" y1="1034.0" x2="1886.6" y2="1034.0" stroke="#000" stroke-width="4.2" stroke-linecap="butt"/>
<text transform="translate(1793.3 861.8) scale(0.9756 1)" font-family="Liberation Sans, sans-serif" font-size="47.9" fill="#000">bp</text>
<text transform="translate(1779.5 916.4) scale(0.9756 1)" font-family="Liberation Sans, sans-serif" font-size="47.9" fill="#000">500</text>
<path d="M763 0H583V1147Q518 1085 412 1023Q307 961 223 930V1104Q374 1175 487 1276Q600 1377 647 1472H763Z" fill="#000" transform="translate(1778.7 1050.5) scale(0.02280 -0.02280)"/>
<text transform="translate(1804.6 1050.5) scale(0.9756 1)" font-family="Liberation Sans, sans-serif" font-size="47.9" fill="#000">00</text>
<text transform="translate(2065.1 842.0) scale(0.9756 1)" font-family="Liberation Sans, sans-serif" font-size="62.1" font-style="italic" fill="#000">OPN4</text>
<text transform="translate(2249.5 842.0) scale(0.9756 1)" font-family="Liberation Sans, sans-serif" font-size="47.9" fill="#000">242 bp</text>
<text transform="translate(2487.0 842.0) scale(0.9756 1)" font-family="Liberation Sans, sans-serif" font-size="62.1" font-style="italic" fill="#000">OPN3</text>
<text transform="translate(2673.2 842.0) scale(0.9756 1)" font-family="Liberation Sans, sans-serif" font-size="47.9" fill="#000">253 bp</text>
<path d="M2024.8 877.0V863.8H2432.9V877.0" fill="none" stroke="#000" stroke-width="4.2" stroke-linejoin="miter"/>
<path d="M2453.1 877.0V863.8H2847.5V877.0" fill="none" stroke="#000" stroke-width="4.2" stroke-linejoin="miter"/>
<rect x="2091.8" y="1123.8" width="23.2" height="7.6" fill="#000"/>
<path d="M763 0H583V1147Q518 1085 412 1023Q307 961 223 930V1104Q374 1175 487 1276Q600 1377 647 1472H763Z" transform="translate(2223.6 1147.4) scale(0.02622 -0.02622)"/>
<text transform="translate(2356.7 1147.4) scale(0.9756 1)" font-family="Liberation Sans, sans-serif" font-size="55.3" fill="#000">2</text>
<rect x="2501.9" y="1123.8" width="23.2" height="7.6" fill="#000"/>
<path d="M763 0H583V1147Q518 1085 412 1023Q307 961 223 930V1104Q374 1175 487 1276Q600 1377 647 1472H763Z" transform="translate(2646.1 1147.4) scale(0.02622 -0.02622)"/>
<text transform="translate(2780.0 1147.4) scale(0.9756 1)" font-family="Liberation Sans, sans-serif" font-size="55.3" fill="#000">2</text>
<rect x="2995.7" y="885.6" width="505.1" height="200.7" fill="#a8a8a8"/>
<clipPath id="c13"><rect x="3000.7" y="890.6" width="495.1" height="190.7"/></clipPath>
<g clip-path="url(#c13)">
<rect x="3000.7" y="890.6" width="495.1" height="190.7" fill="rgb(226,226,226)"/>
<rect x="3003.6" y="887.6" width="104.7" height="18.8" fill="rgb(0,0,0)" filter="url(#b3)"/>
<rect x="3003.6" y="909.0" width="104.7" height="14.5" fill="rgb(80,80,80)" filter="url(#b3)"/>
<rect x="3003.6" y="935.2" width="104.7" height="17.4" fill="rgb(120,120,120)" filter="url(#b3)"/>
<rect x="3003.6" y="976.7" width="104.7" height="17.4" fill="rgb(162,162,162)" filter="url(#b3)"/>
<rect x="3003.6" y="1034.2" width="104.7" height="23.2" fill="rgb(192,192,192)" filter="url(#b3)"/>
<rect x="3263.0" y="972.8" width="98.0" height="23.8" fill="rgb(70,70,70)" filter="url(#b4)"/>
<rect x="3388.8" y="971.1" width="101.2" height="21.0" fill="rgb(140,140,140)" filter="url(#b4)"/>
</g>
<line x1="2976.0" y1="896.5" x2="2995.7" y2="896.5" stroke="#000" stroke-width="4.2" stroke-linecap="butt"/>
<line x1="2976.0" y1="917.5" x2="2995.7" y2="917.5" stroke="#000" stroke-width="4.2" stroke-linecap="butt"/>
<line x1="2976.0" y1="944.5" x2="2995.7" y2="944.5" stroke="#000" stroke-width="4.2" stroke-linecap="butt"/>
<line x1="2976.0" y1="986.0" x2="2995.7" y2="986.0" stroke="#000" stroke-width="4.2" stroke-linecap="butt"/>
<line x1="2976.0" y1="1045.7" x2="2995.7" y2="1045.7" stroke="#000" stroke-width="4.2" stroke-linecap="butt"/>
<text transform="translate(2901.0 849.5) scale(0.9756 1)" font-family="Liberation Sans, sans-serif" font-size="47.9" fill="#000">bp</text>
<text transform="translate(2888.9 912.0) scale(0.9756 1)" font-family="Liberation Sans, sans-serif" font-size="47.9" fill="#000">500</text>
<path d="M763 0H583V1147Q518 1085 412 1023Q307 961 223 930V1104Q374 1175 487 1276Q600 1377 647 1472H763Z" fill="#000" transform="translate(2888.0 1061.5) scale(0.02280 -0.02280)"/>
<text transform="translate(2914.0 1061.5) scale(0.9756 1)" font-family="Liberation Sans, sans-serif" font-size="47.9" fill="#000">00</text>
<text transform="translate(3141.3 842.0) scale(0.9756 1)" font-family="Liberation Sans, sans-serif" font-size="62.1" font-style="italic" fill="#000">HPRT</text>
<path d="M763 0H583V1147Q518 1085 412 1023Q307 961 223 930V1104Q374 1175 487 1276Q600 1377 647 1472H763Z" fill="#000" transform="translate(3326.5 842.0) scale(0.02280 -0.02280)"/>
<text transform="translate(3352.5 842.0) scale(0.9756 1)" font-family="Liberation Sans, sans-serif" font-size="47.9" fill="#000">92 bp</text>
<path d="M3118.1 877.0V863.8H3489.9V877.0" fill="none" stroke="#000" stroke-width="4.2" stroke-linejoin="miter"/>
<rect x="3166.4" y="1123.8" width="23.2" height="7.6" fill="#000"/>
<path d="M763 0H583V1147Q518 1085 412 1023Q307 961 223 930V1104Q374 1175 487 1276Q600 1377 647 1472H763Z" transform="translate(3298.1 1147.4) scale(0.02622 -0.02622)"/>
<text transform="translate(3419.0 1147.4) scale(0.9756 1)" font-family="Liberation Sans, sans-serif" font-size="55.3" fill="#000">2</text>
<rect x="2016.3" y="1294.7" width="550.2" height="200.7" fill="#a8a8a8"/>
<clipPath id="c14"><rect x="2021.3" y="1299.7" width="540.2" height="190.7"/></clipPath>
<g clip-path="url(#c14)">
<rect x="2021.3" y="1299.7" width="540.2" height="190.7" fill="rgb(218,218,218)"/>
<rect x="2438.7" y="1299.0" width="113.3" height="17.4" fill="rgb(90,90,90)" filter="url(#b3)"/>
<rect x="2438.7" y="1325.0" width="113.3" height="14.5" fill="rgb(140,140,140)" filter="url(#b3)"/>
<rect x="2438.7" y="1357.4" width="113.3" height="17.4" fill="rgb(150,150,150)" filter="url(#b3)"/>
<rect x="2438.7" y="1404.3" width="113.3" height="17.4" fill="rgb(176,176,176)" filter="url(#b3)"/>
<rect x="2438.7" y="1463.7" width="113.3" height="23.2" fill="rgb(192,192,192)" filter="url(#b3)"/>
<rect x="2165.0" y="1330.0" width="100.0" height="70.0" fill="rgb(203,203,203)" filter="url(#b6)"/>
<rect x="2305.0" y="1335.0" width="100.0" height="70.0" fill="rgb(203,203,203)" filter="url(#b6)"/>
<rect x="2159.4" y="1396.1" width="109.1" height="23.8" fill="rgb(140,140,140)" filter="url(#b4)"/>
<rect x="2301.0" y="1405.0" width="107.0" height="23.8" fill="rgb(112,112,112)" filter="url(#b4)"/>
</g>
<line x1="2567.0" y1="1307.8" x2="2587.0" y2="1307.8" stroke="#000" stroke-width="4.2" stroke-linecap="butt"/>
<line x1="2567.0" y1="1332.7" x2="2587.0" y2="1332.7" stroke="#000" stroke-width="4.2" stroke-linecap="butt"/>
<line x1="2567.0" y1="1366.7" x2="2587.0" y2="1366.7" stroke="#000" stroke-width="4.2" stroke-linecap="butt"/>
<line x1="2567.0" y1="1412.5" x2="2587.0" y2="1412.5" stroke="#000" stroke-width="4.2" stroke-linecap="butt"/>
<line x1="2567.0" y1="1477.0" x2="2587.0" y2="1477.0" stroke="#000" stroke-width="4.2" stroke-linecap="butt"/>
<text transform="translate(2610.5 1260.8) scale(0.9756 1)" font-family="Liberation Sans, sans-serif" font-size="47.9" fill="#000">bp</text>
<text transform="translate(2598.0 1323.5) scale(0.9756 1)" font-family="Liberation Sans, sans-serif" font-size="47.9" fill="#000">500</text>
<path d="M763 0H583V1147Q518 1085 412 1023Q307 961 223 930V1104Q374 1175 487 1276Q600 1377 647 1472H763Z" fill="#000" transform="translate(2597.2 1493.5) scale(0.02280 -0.02280)"/>
<text transform="translate(2623.1 1493.5) scale(0.9756 1)" font-family="Liberation Sans, sans-serif" font-size="47.9" fill="#000">00</text>
<text transform="translate(2078.4 1255.4) scale(0.9756 1)" font-family="Liberation Sans, sans-serif" font-size="62.1" font-style="italic" fill="#000">RGR</text>
<path d="M763 0H583V1147Q518 1085 412 1023Q307 961 223 930V1104Q374 1175 487 1276Q600 1377 647 1472H763Z" fill="#000" transform="translate(2231.8 1255.4) scale(0.02280 -0.02280)"/>
<text transform="translate(2257.8 1255.4) scale(0.9756 1)" font-family="Liberation Sans, sans-serif" font-size="47.9" fill="#000">8</text>
<path d="M763 0H583V1147Q518 1085 412 1023Q307 961 223 930V1104Q374 1175 487 1276Q600 1377 647 1472H763Z" fill="#000" transform="translate(2283.8 1255.4) scale(0.02280 -0.02280)"/>
<text transform="translate(2322.7 1255.4) scale(0.9756 1)" font-family="Liberation Sans, sans-serif" font-size="47.9" fill="#000">bp</text>
<path d="M2027.1 1288.0V1276.0H2417.9V1288.0" fill="none" stroke="#000" stroke-width="4.2" stroke-linejoin="miter"/>
<rect x="2068.0" y="1534.2" width="23.2" height="7.6" fill="#000"/>
<path d="M763 0H583V1147Q518 1085 412 1023Q307 961 223 930V1104Q374 1175 487 1276Q600 1377 647 1472H763Z" transform="translate(2203.1 1557.8) scale(0.02622 -0.02622)"/>
<text transform="translate(2337.0 1557.8) scale(0.9756 1)" font-family="Liberation Sans, sans-serif" font-size="55.3" fill="#000">2</text>
<rect x="2813.8" y="1294.7" width="545.2" height="199.8" fill="#a8a8a8"/>
<clipPath id="c15"><rect x="2818.8" y="1299.7" width="535.2" height="189.8"/></clipPath>
<g clip-path="url(#c15)">
<rect x="2818.8" y="1299.7" width="535.2" height="189.8" fill="rgb(230,230,230)"/>
<rect x="2822.5" y="1297.2" width="113.5" height="11.6" fill="rgb(110,110,110)" filter="url(#b3)"/>
<rect x="2822.5" y="1303.6" width="113.5" height="21.8" fill="rgb(10,10,10)" filter="url(#b3)"/>
<rect x="2822.5" y="1327.2" width="113.5" height="14.5" fill="rgb(100,100,100)" filter="url(#b3)"/>
<rect x="2822.5" y="1357.0" width="113.5" height="17.4" fill="rgb(130,130,130)" filter="url(#b3)"/>
<rect x="2822.5" y="1398.2" width="113.5" height="17.4" fill="rgb(182,182,182)" filter="url(#b3)"/>
<rect x="2822.5" y="1458.7" width="113.5" height="23.2" fill="rgb(214,214,214)" filter="url(#b3)"/>
<rect x="3104.0" y="1383.1" width="96.0" height="23.8" fill="rgb(110,110,110)" filter="url(#b4)"/>
<rect x="3234.8" y="1382.1" width="106.9" height="23.8" fill="rgb(152,152,152)" filter="url(#b4)"/>
</g>
<line x1="2794.0" y1="1315.0" x2="2813.9" y2="1315.0" stroke="#000" stroke-width="4.2" stroke-linecap="butt"/>
<line x1="2794.0" y1="1336.0" x2="2813.9" y2="1336.0" stroke="#000" stroke-width="4.2" stroke-linecap="butt"/>
<line x1="2794.0" y1="1366.7" x2="2813.9" y2="1366.7" stroke="#000" stroke-width="4.2" stroke-linecap="butt"/>
<line x1="2794.0" y1="1409.0" x2="2813.9" y2="1409.0" stroke="#000" stroke-width="4.2" stroke-linecap="butt"/>
<line x1="2794.0" y1="1472.7" x2="2813.9" y2="1472.7" stroke="#000" stroke-width="4.2" stroke-linecap="butt"/>
<text transform="translate(2717.5 1260.8) scale(0.9756 1)" font-family="Liberation Sans, sans-serif" font-size="47.9" fill="#000">bp</text>
<text transform="translate(2704.5 1331.1) scale(0.9756 1)" font-family="Liberation Sans, sans-serif" font-size="47.9" fill="#000">500</text>
<path d="M763 0H583V1147Q518 1085 412 1023Q307 961 223 930V1104Q374 1175 487 1276Q600 1377 647 1472H763Z" fill="#000" transform="translate(2703.7 1488.2) scale(0.02280 -0.02280)"/>
<text transform="translate(2729.6 1488.2) scale(0.9756 1)" font-family="Liberation Sans, sans-serif" font-size="47.9" fill="#000">00</text>
<text transform="translate(2998.5 1255.4) scale(0.9756 1)" font-family="Liberation Sans, sans-serif" font-size="62.1" font-style="italic" fill="#000">RRH</text>
<path d="M763 0H583V1147Q518 1085 412 1023Q307 961 223 930V1104Q374 1175 487 1276Q600 1377 647 1472H763Z" fill="#000" transform="translate(3152.6 1255.4) scale(0.02280 -0.02280)"/>
<text transform="translate(3178.6 1255.4) scale(0.9756 1)" font-family="Liberation Sans, sans-serif" font-size="47.9" fill="#000">99 bp</text>
<path d="M2943.7 1288.0V1276.0H3342.9V1288.0" fill="none" stroke="#000" stroke-width="4.2" stroke-linejoin="miter"/>
<rect x="3002.0" y="1534.2" width="23.2" height="7.6" fill="#000"/>
<path d="M763 0H583V1147Q518 1085 412 1023Q307 961 223 930V1104Q374 1175 487 1276Q600 1377 647 1472H763Z" transform="translate(3146.9 1557.8) scale(0.02622 -0.02622)"/>
<text transform="translate(3271.0 1557.8) scale(0.9756 1)" font-family="Liberation Sans, sans-serif" font-size="55.3" fill="#000">2</text>
<rect x="1204.0" y="1741.0" width="456.0" height="198.8" fill="#a2a2a2"/>
<clipPath id="c16"><rect x="1209.0" y="1746.0" width="446.0" height="188.8"/></clipPath>
<g clip-path="url(#c16)">
<rect x="1209.0" y="1746.0" width="446.0" height="188.8" fill="rgb(42,42,42)"/>
<rect x="1229.0" y="1739.0" width="122.0" height="26.0" fill="rgb(120,120,120)" filter="url(#b6)"/>
<rect x="1229.0" y="1744.8" width="122.0" height="15.9" fill="rgb(255,255,255)" filter="url(#b3)"/>
<rect x="1229.0" y="1771.8" width="122.0" height="13.1" fill="rgb(185,185,185)" filter="url(#b3)"/>
<rect x="1229.0" y="1807.0" width="122.0" height="14.5" fill="rgb(140,140,140)" filter="url(#b3)"/>
<rect x="1229.0" y="1853.0" width="122.0" height="14.5" fill="rgb(105,105,105)" filter="url(#b3)"/>
<rect x="1527.0" y="1746.0" width="120.0" height="72.0" fill="rgb(80,80,80)" filter="url(#b6)"/>
<rect x="1523.6" y="1810.0" width="126.4" height="24.0" fill="rgb(140,140,140)" filter="url(#b6)"/>
<rect x="1523.6" y="1815.7" width="126.4" height="12.6" fill="rgb(255,255,255)" filter="url(#b4)"/>
</g>
<line x1="1183.0" y1="1753.5" x2="1204.0" y2="1753.5" stroke="#000" stroke-width="4.2" stroke-linecap="butt"/>
<line x1="1183.0" y1="1779.7" x2="1204.0" y2="1779.7" stroke="#000" stroke-width="4.2" stroke-linecap="butt"/>
<line x1="1183.0" y1="1814.6" x2="1204.0" y2="1814.6" stroke="#000" stroke-width="4.2" stroke-linecap="butt"/>
<line x1="1183.0" y1="1860.4" x2="1204.0" y2="1860.4" stroke="#000" stroke-width="4.2" stroke-linecap="butt"/>
<line x1="1183.0" y1="1933.0" x2="1204.0" y2="1933.0" stroke="#000" stroke-width="4.2" stroke-linecap="butt"/>
<text transform="translate(1110.9 1708.7) scale(0.9756 1)" font-family="Liberation Sans, sans-serif" font-size="47.9" fill="#000">bp</text>
<text transform="translate(1097.3 1768.1) scale(0.9756 1)" font-family="Liberation Sans, sans-serif" font-size="47.9" fill="#000">500</text>
<path d="M763 0H583V1147Q518 1085 412 1023Q307 961 223 930V1104Q374 1175 487 1276Q600 1377 647 1472H763Z" fill="#000" transform="translate(1096.4 1950.0) scale(0.02280 -0.02280)"/>
<text transform="translate(1122.4 1950.0) scale(0.9756 1)" font-family="Liberation Sans, sans-serif" font-size="47.9" fill="#000">00</text>
<text transform="translate(1334.2 1698.5) scale(0.9756 1)" font-family="Liberation Sans, sans-serif" font-size="62.1" font-style="italic" fill="#000">OPN4</text>
<text transform="translate(1518.4 1698.5) scale(0.9756 1)" font-family="Liberation Sans, sans-serif" font-size="47.9" fill="#000">242 bp</text>
<path d="M1362.9 1733.4V1720.3H1649.9V1733.4" fill="none" stroke="#000" stroke-width="4.2" stroke-linejoin="miter"/>
<rect x="1434.4" y="1986.0" width="23.2" height="7.6" fill="#000"/>
<path d="M763 0H583V1147Q518 1085 412 1023Q307 961 223 930V1104Q374 1175 487 1276Q600 1377 647 1472H763Z" transform="translate(1571.7 2009.6) scale(0.02622 -0.02622)"/>
<rect x="1863.4" y="1741.0" width="554.1" height="198.8" fill="#a2a2a2"/>
<clipPath id="c17"><rect x="1868.4" y="1746.0" width="544.1" height="188.8"/></clipPath>
<g clip-path="url(#c17)">
<rect x="1868.4" y="1746.0" width="544.1" height="188.8" fill="rgb(36,36,36)"/>
<rect x="1860.0" y="1730.0" width="105.0" height="220.0" fill="rgb(54,54,54)" filter="url(#b6)"/>
<rect x="2292.0" y="1730.0" width="128.0" height="220.0" fill="rgb(92,92,92)" filter="url(#b6)"/>
<rect x="1995.0" y="1730.0" width="125.0" height="220.0" fill="rgb(52,52,52)" filter="url(#b6)"/>
<rect x="2140.0" y="1730.0" width="122.0" height="220.0" fill="rgb(50,50,50)" filter="url(#b6)"/>
<rect x="2288.8" y="1746.2" width="122.2" height="15.9" fill="rgb(255,255,255)" filter="url(#b3)"/>
<rect x="2288.8" y="1769.7" width="122.2" height="15.9" fill="rgb(225,225,225)" filter="url(#b3)"/>
<rect x="2288.8" y="1801.4" width="122.2" height="15.9" fill="rgb(212,212,212)" filter="url(#b3)"/>
<rect x="2288.8" y="1846.1" width="122.2" height="17.4" fill="rgb(180,180,180)" filter="url(#b3)"/>
<rect x="2288.8" y="1901.8" width="122.2" height="29.0" fill="rgb(128,128,128)" filter="url(#b3)"/>
<rect x="1998.7" y="1817.5" width="113.3" height="22.0" fill="rgb(95,95,95)" filter="url(#b6)"/>
<rect x="2142.7" y="1813.0" width="111.3" height="22.0" fill="rgb(85,85,85)" filter="url(#b6)"/>
<rect x="1998.7" y="1822.2" width="113.3" height="12.6" fill="rgb(215,215,215)" filter="url(#b4)"/>
<rect x="2142.7" y="1817.7" width="111.3" height="12.6" fill="rgb(172,172,172)" filter="url(#b4)"/>
</g>
<line x1="2418.5" y1="1756.5" x2="2435.9" y2="1756.5" stroke="#000" stroke-width="4.2" stroke-linecap="butt"/>
<line x1="2418.5" y1="1778.3" x2="2435.9" y2="1778.3" stroke="#000" stroke-width="4.2" stroke-linecap="butt"/>
<line x1="2418.5" y1="1809.8" x2="2435.9" y2="1809.8" stroke="#000" stroke-width="4.2" stroke-linecap="butt"/>
<line x1="2418.5" y1="1856.0" x2="2435.9" y2="1856.0" stroke="#000" stroke-width="4.2" stroke-linecap="butt"/>
<line x1="2418.5" y1="1915.8" x2="2435.9" y2="1915.8" stroke="#000" stroke-width="4.2" stroke-linecap="butt"/>
<text transform="translate(2454.3 1708.7) scale(0.9756 1)" font-family="Liberation Sans, sans-serif" font-size="47.9" fill="#000">bp</text>
<text transform="translate(2445.7 1770.2) scale(0.9756 1)" font-family="Liberation Sans, sans-serif" font-size="47.9" fill="#000">500</text>
<path d="M763 0H583V1147Q518 1085 412 1023Q307 961 223 930V1104Q374 1175 487 1276Q600 1377 647 1472H763Z" fill="#000" transform="translate(2444.9 1932.5) scale(0.02280 -0.02280)"/>
<text transform="translate(2470.8 1932.5) scale(0.9756 1)" font-family="Liberation Sans, sans-serif" font-size="47.9" fill="#000">00</text>
<text transform="translate(1905.7 1698.5) scale(0.9756 1)" font-family="Liberation Sans, sans-serif" font-size="62.1" font-style="italic" fill="#000">OPN4</text>
<text transform="translate(2091.1 1698.5) scale(0.9756 1)" font-family="Liberation Sans, sans-serif" font-size="47.9" fill="#000">242 bp</text>
<path d="M1873.0 1733.4V1720.3H2263.6V1733.4" fill="none" stroke="#000" stroke-width="4.2" stroke-linejoin="miter"/>
<rect x="1908.4" y="1986.0" width="23.2" height="7.6" fill="#000"/>
<path d="M763 0H583V1147Q518 1085 412 1023Q307 961 223 930V1104Q374 1175 487 1276Q600 1377 647 1472H763Z" transform="translate(2039.1 2009.6) scale(0.02622 -0.02622)"/>
<text transform="translate(2182.0 2009.6) scale(0.9756 1)" font-family="Liberation Sans, sans-serif" font-size="55.3" fill="#000">2</text>
<text transform="translate(65.3 51.5) scale(0.9756 1)" font-family="Liberation Sans, sans-serif" font-size="73.8" font-weight="bold" fill="#000">A</text>
<text transform="translate(1843.7 51.5) scale(0.9756 1)" font-family="Liberation Sans, sans-serif" font-size="73.8" font-weight="bold" fill="#000">B</text>
<text transform="translate(1022.2 1709.4) scale(0.9756 1)" font-family="Liberation Sans, sans-serif" font-size="73.8" font-weight="bold" fill="#000">C</text>
<text transform="translate(1793.0 1709.4) scale(0.9756 1)" font-family="Liberation Sans, sans-serif" font-size="73.8" font-weight="bold" fill="#000">D</text>
<text transform="translate(240.9 2145.8) scale(0.9756 1)" font-family="Liberation Sans, sans-serif" font-size="73.8" font-weight="bold" fill="#000">E</text>
<text transform="translate(1756.4 2145.8) scale(0.9756 1)" font-family="Liberation Sans, sans-serif" font-size="73.8" font-weight="bold" fill="#000">F</text>
<rect x="500.5" y="2093.5" width="71.5" height="46" fill="#e6e6e6" stroke="#000" stroke-width="4"/>
<rect x="986.5" y="2093" width="73" height="46" fill="#646464" stroke="#000" stroke-width="4"/>
<text transform="translate(597.8 2136.3) scale(0.9756 1)" font-family="Liberation Sans, sans-serif" font-size="58.9" fill="#000">MIO-M</text>
<path d="M763 0H583V1147Q518 1085 412 1023Q307 961 223 930V1104Q374 1175 487 1276Q600 1377 647 1472H763Z" fill="#000" transform="translate(773.4 2136.3) scale(0.02808 -0.02808)"/>
<text transform="translate(821.4 2136.3) scale(0.9756 1)" font-family="Liberation Sans, sans-serif" font-size="58.9" fill="#000">Cells</text>
<text transform="translate(1078.6 2136.5) scale(0.9756 1)" font-family="Liberation Sans, sans-serif" font-size="58.9" fill="#000">Neural Retina</text>
<line x1="391.5" y1="2207.5" x2="391.5" y2="2967.0" stroke="#000" stroke-width="4.5" stroke-linecap="butt"/>
<line x1="375.7" y1="2209.7" x2="391.5" y2="2209.7" stroke="#000" stroke-width="4.5" stroke-linecap="butt"/>
<path d="M763 0H583V1147Q518 1085 412 1023Q307 961 223 930V1104Q374 1175 487 1276Q600 1377 647 1472H763Z" fill="#000" transform="translate(314.9 2226.5) scale(0.02271 -0.02271)"/>
<text transform="translate(340.8 2226.5) scale(0.9756 1)" font-family="Liberation Sans, sans-serif" font-size="47.7" fill="#000">5</text>
<line x1="375.7" y1="2372.2" x2="391.5" y2="2372.2" stroke="#000" stroke-width="4.5" stroke-linecap="butt"/>
<path d="M763 0H583V1147Q518 1085 412 1023Q307 961 223 930V1104Q374 1175 487 1276Q600 1377 647 1472H763Z" fill="#000" transform="translate(314.8 2389.0) scale(0.02271 -0.02271)"/>
<text transform="translate(340.7 2389.0) scale(0.9756 1)" font-family="Liberation Sans, sans-serif" font-size="47.7" fill="#000">0</text>
<line x1="375.7" y1="2536.4" x2="391.5" y2="2536.4" stroke="#000" stroke-width="4.5" stroke-linecap="butt"/>
<text transform="translate(340.8 2553.2) scale(0.9756 1)" font-family="Liberation Sans, sans-serif" font-size="47.7" fill="#000">5</text>
<line x1="375.7" y1="2699.2" x2="391.5" y2="2699.2" stroke="#000" stroke-width="4.5" stroke-linecap="butt"/>
<text transform="translate(340.7 2716.0) scale(0.9756 1)" font-family="Liberation Sans, sans-serif" font-size="47.7" fill="#000">0</text>
<line x1="375.7" y1="2863.7" x2="391.5" y2="2863.7" stroke="#000" stroke-width="4.5" stroke-linecap="butt"/>
<text transform="translate(325.3 2880.5) scale(0.9756 1)" font-family="Liberation Sans, sans-serif" font-size="47.7" fill="#000">-5</text>
<text transform="translate(282,2540) rotate(-90) scale(0.9756 1)" text-anchor="middle" font-family="Liberation Sans, sans-serif" font-size="58.9">ΔCT</text>
<line x1="468.2" y1="2307.9" x2="468.2" y2="2341.6" stroke="#000" stroke-width="4.5" stroke-linecap="butt"/>
<line x1="447.8" y1="2307.9" x2="488.8" y2="2307.9" stroke="#000" stroke-width="4.5" stroke-linecap="butt"/>
<rect x="428.6" y="2343.8" width="79.4" height="355.3" fill="#e6e6e6" stroke="#000" stroke-width="4.5"/>
<line x1="558.5" y1="2957.5" x2="558.5" y2="2921.9" stroke="#000" stroke-width="4.5" stroke-linecap="butt"/>
<line x1="538.0" y1="2957.5" x2="579.0" y2="2957.5" stroke="#000" stroke-width="4.5" stroke-linecap="butt"/>
<rect x="518.8" y="2699.2" width="79.6" height="220.5" fill="#646464" stroke="#000" stroke-width="4.5"/>
<line x1="665.5" y1="2470.0" x2="665.5" y2="2489.3" stroke="#000" stroke-width="4.5" stroke-linecap="butt"/>
<line x1="645.0" y1="2470.0" x2="686.0" y2="2470.0" stroke="#000" stroke-width="4.5" stroke-linecap="butt"/>
<rect x="626.0" y="2491.6" width="78.9" height="207.6" fill="#e6e6e6" stroke="#000" stroke-width="4.5"/>
<line x1="757.0" y1="2424.0" x2="757.0" y2="2440.5" stroke="#000" stroke-width="4.5" stroke-linecap="butt"/>
<line x1="736.5" y1="2424.0" x2="777.5" y2="2424.0" stroke="#000" stroke-width="4.5" stroke-linecap="butt"/>
<rect x="718.0" y="2442.8" width="78.1" height="256.4" fill="#646464" stroke="#000" stroke-width="4.5"/>
<line x1="868.3" y1="2296.0" x2="868.3" y2="2326.5" stroke="#000" stroke-width="4.5" stroke-linecap="butt"/>
<line x1="847.8" y1="2296.0" x2="888.8" y2="2296.0" stroke="#000" stroke-width="4.5" stroke-linecap="butt"/>
<rect x="829.2" y="2328.8" width="78.1" height="370.4" fill="#e6e6e6" stroke="#000" stroke-width="4.5"/>
<line x1="959.5" y1="2502.0" x2="959.5" y2="2514.2" stroke="#000" stroke-width="4.5" stroke-linecap="butt"/>
<line x1="939.0" y1="2502.0" x2="980.0" y2="2502.0" stroke="#000" stroke-width="4.5" stroke-linecap="butt"/>
<rect x="919.5" y="2516.4" width="80.0" height="182.8" fill="#646464" stroke="#000" stroke-width="4.5"/>
<line x1="1068.2" y1="2277.9" x2="1068.2" y2="2295.0" stroke="#000" stroke-width="4.5" stroke-linecap="butt"/>
<line x1="1047.8" y1="2277.9" x2="1088.8" y2="2277.9" stroke="#000" stroke-width="4.5" stroke-linecap="butt"/>
<rect x="1028.8" y="2297.2" width="79.0" height="401.9" fill="#e6e6e6" stroke="#000" stroke-width="4.5"/>
<line x1="1159.2" y1="2322.8" x2="1159.2" y2="2346.7" stroke="#000" stroke-width="4.5" stroke-linecap="butt"/>
<line x1="1138.7" y1="2322.8" x2="1179.7" y2="2322.8" stroke="#000" stroke-width="4.5" stroke-linecap="butt"/>
<rect x="1119.8" y="2348.9" width="78.8" height="350.2" fill="#646464" stroke="#000" stroke-width="4.5"/>
<line x1="1269.2" y1="2378.8" x2="1269.2" y2="2388.7" stroke="#000" stroke-width="4.5" stroke-linecap="butt"/>
<line x1="1248.7" y1="2378.8" x2="1289.7" y2="2378.8" stroke="#000" stroke-width="4.5" stroke-linecap="butt"/>
<rect x="1229.8" y="2390.9" width="78.7" height="308.2" fill="#e6e6e6" stroke="#000" stroke-width="4.5"/>
<line x1="1359.7" y1="2652.5" x2="1359.7" y2="2664.0" stroke="#000" stroke-width="4.5" stroke-linecap="butt"/>
<line x1="1339.2" y1="2652.5" x2="1380.2" y2="2652.5" stroke="#000" stroke-width="4.5" stroke-linecap="butt"/>
<rect x="1319.7" y="2666.2" width="80.0" height="32.9" fill="#646464" stroke="#000" stroke-width="4.5"/>
<line x1="1468.6" y1="2300.0" x2="1468.6" y2="2354.0" stroke="#000" stroke-width="4.5" stroke-linecap="butt"/>
<line x1="1448.1" y1="2300.0" x2="1489.1" y2="2300.0" stroke="#000" stroke-width="4.5" stroke-linecap="butt"/>
<rect x="1428.8" y="2356.2" width="79.5" height="342.9" fill="#e6e6e6" stroke="#000" stroke-width="4.5"/>
<line x1="1559.2" y1="2642.0" x2="1559.2" y2="2674.3" stroke="#000" stroke-width="4.5" stroke-linecap="butt"/>
<line x1="1538.8" y1="2642.0" x2="1579.8" y2="2642.0" stroke="#000" stroke-width="4.5" stroke-linecap="butt"/>
<rect x="1519.0" y="2676.6" width="80.4" height="22.6" fill="#646464" stroke="#000" stroke-width="4.5"/>
<path d="M468.4 2254.0V2240.6H559.6V2254.0" fill="none" stroke="#000" stroke-width="4.4" stroke-linejoin="miter"/>
<g transform="translate(515.2 2211.8) scale(0.9)"><path d="M-0.55,-1.2 L-2.1,-8.6 A2.35,2.35 0 1 1 2.1,-8.6 L0.55,-1.2 Z" transform="rotate(0)"/><path d="M-0.55,-1.2 L-2.1,-8.6 A2.35,2.35 0 1 1 2.1,-8.6 L0.55,-1.2 Z" transform="rotate(60)"/><path d="M-0.55,-1.2 L-2.1,-8.6 A2.35,2.35 0 1 1 2.1,-8.6 L0.55,-1.2 Z" transform="rotate(120)"/><path d="M-0.55,-1.2 L-2.1,-8.6 A2.35,2.35 0 1 1 2.1,-8.6 L0.55,-1.2 Z" transform="rotate(180)"/><path d="M-0.55,-1.2 L-2.1,-8.6 A2.35,2.35 0 1 1 2.1,-8.6 L0.55,-1.2 Z" transform="rotate(240)"/><path d="M-0.55,-1.2 L-2.1,-8.6 A2.35,2.35 0 1 1 2.1,-8.6 L0.55,-1.2 Z" transform="rotate(300)"/></g>
<path d="M868.0 2254.0V2240.6H959.5V2254.0" fill="none" stroke="#000" stroke-width="4.4" stroke-linejoin="miter"/>
<g transform="translate(915.0 2211.8) scale(0.9)"><path d="M-0.55,-1.2 L-2.1,-8.6 A2.35,2.35 0 1 1 2.1,-8.6 L0.55,-1.2 Z" transform="rotate(0)"/><path d="M-0.55,-1.2 L-2.1,-8.6 A2.35,2.35 0 1 1 2.1,-8.6 L0.55,-1.2 Z" transform="rotate(60)"/><path d="M-0.55,-1.2 L-2.1,-8.6 A2.35,2.35 0 1 1 2.1,-8.6 L0.55,-1.2 Z" transform="rotate(120)"/><path d="M-0.55,-1.2 L-2.1,-8.6 A2.35,2.35 0 1 1 2.1,-8.6 L0.55,-1.2 Z" transform="rotate(180)"/><path d="M-0.55,-1.2 L-2.1,-8.6 A2.35,2.35 0 1 1 2.1,-8.6 L0.55,-1.2 Z" transform="rotate(240)"/><path d="M-0.55,-1.2 L-2.1,-8.6 A2.35,2.35 0 1 1 2.1,-8.6 L0.55,-1.2 Z" transform="rotate(300)"/></g>
<path d="M1269.7 2254.0V2240.6H1360.3V2254.0" fill="none" stroke="#000" stroke-width="4.4" stroke-linejoin="miter"/>
<g transform="translate(1316.2 2211.8) scale(0.9)"><path d="M-0.55,-1.2 L-2.1,-8.6 A2.35,2.35 0 1 1 2.1,-8.6 L0.55,-1.2 Z" transform="rotate(0)"/><path d="M-0.55,-1.2 L-2.1,-8.6 A2.35,2.35 0 1 1 2.1,-8.6 L0.55,-1.2 Z" transform="rotate(60)"/><path d="M-0.55,-1.2 L-2.1,-8.6 A2.35,2.35 0 1 1 2.1,-8.6 L0.55,-1.2 Z" transform="rotate(120)"/><path d="M-0.55,-1.2 L-2.1,-8.6 A2.35,2.35 0 1 1 2.1,-8.6 L0.55,-1.2 Z" transform="rotate(180)"/><path d="M-0.55,-1.2 L-2.1,-8.6 A2.35,2.35 0 1 1 2.1,-8.6 L0.55,-1.2 Z" transform="rotate(240)"/><path d="M-0.55,-1.2 L-2.1,-8.6 A2.35,2.35 0 1 1 2.1,-8.6 L0.55,-1.2 Z" transform="rotate(300)"/></g>
<path d="M1468.7 2254.0V2240.6H1561.3V2254.0" fill="none" stroke="#000" stroke-width="4.4" stroke-linejoin="miter"/>
<g transform="translate(1516.2 2211.8) scale(0.9)"><path d="M-0.55,-1.2 L-2.1,-8.6 A2.35,2.35 0 1 1 2.1,-8.6 L0.55,-1.2 Z" transform="rotate(0)"/><path d="M-0.55,-1.2 L-2.1,-8.6 A2.35,2.35 0 1 1 2.1,-8.6 L0.55,-1.2 Z" transform="rotate(60)"/><path d="M-0.55,-1.2 L-2.1,-8.6 A2.35,2.35 0 1 1 2.1,-8.6 L0.55,-1.2 Z" transform="rotate(120)"/><path d="M-0.55,-1.2 L-2.1,-8.6 A2.35,2.35 0 1 1 2.1,-8.6 L0.55,-1.2 Z" transform="rotate(180)"/><path d="M-0.55,-1.2 L-2.1,-8.6 A2.35,2.35 0 1 1 2.1,-8.6 L0.55,-1.2 Z" transform="rotate(240)"/><path d="M-0.55,-1.2 L-2.1,-8.6 A2.35,2.35 0 1 1 2.1,-8.6 L0.55,-1.2 Z" transform="rotate(300)"/></g>
<text transform="translate(433.0 3039.0) scale(0.9756 1)" font-family="Liberation Sans, sans-serif" font-size="59.4" font-style="italic" fill="#000">OPN2</text>
<text transform="translate(633.1 3039.0) scale(0.9756 1)" font-family="Liberation Sans, sans-serif" font-size="59.4" font-style="italic" fill="#000">OPN3</text>
<text transform="translate(836.2 3039.0) scale(0.9756 1)" font-family="Liberation Sans, sans-serif" font-size="59.4" font-style="italic" fill="#000">OPN4</text>
<text transform="translate(1036.1 3039.0) scale(0.9756 1)" font-family="Liberation Sans, sans-serif" font-size="59.4" font-style="italic" fill="#000">OPN5</text>
<text transform="translate(1249.3 3039.0) scale(0.9756 1)" font-family="Liberation Sans, sans-serif" font-size="59.4" font-style="italic" fill="#000">RRH</text>
<text transform="translate(1415.7 3039.0) scale(0.9756 1)" font-family="Liberation Sans, sans-serif" font-size="59.4" font-style="italic" fill="#000">OPN</text>
<path d="M763 0H583V1147Q518 1085 412 1023Q307 961 223 930V1104Q374 1175 487 1276Q600 1377 647 1472H763Z" fill="#000" transform="translate(1538.4 3039.0) skewX(-12) scale(0.02832 -0.02832)"/>
<text transform="translate(1573.7 3039.0) scale(0.9756 1)" font-family="Liberation Sans, sans-serif" font-size="59.4" font-style="italic" fill="#000">SW</text>
<rect x="1827.2" y="2174.9" width="1305.6" height="798.9" fill="none" stroke="#000" stroke-width="4.2"/>
<line x1="2179.6" y1="2174.9" x2="2179.6" y2="2973.8" stroke="#000" stroke-width="4.2" stroke-linecap="butt"/>
<line x1="2657.0" y1="2279.5" x2="2657.0" y2="2973.8" stroke="#000" stroke-width="4.2" stroke-linecap="butt"/>
<line x1="2179.6" y1="2279.5" x2="3132.8" y2="2279.5" stroke="#000" stroke-width="4.2" stroke-linecap="butt"/>
<line x1="1827.2" y1="2375.0" x2="3132.8" y2="2375.0" stroke="#000" stroke-width="4.2" stroke-linecap="butt"/>
<text transform="translate(1923.6 2295.0) scale(0.9756 1)" font-family="Liberation Sans, sans-serif" font-size="59.4" fill="#000">Gene</text>
<text transform="translate(2534.2 2242.0) scale(0.9756 1)" font-family="Liberation Sans, sans-serif" font-size="59.4" fill="#000">CT Value</text>
<text transform="translate(2246.2 2349.3) scale(0.9756 1)" font-family="Liberation Sans, sans-serif" font-size="59.4" fill="#000">MIO-M</text>
<path d="M763 0H583V1147Q518 1085 412 1023Q307 961 223 930V1104Q374 1175 487 1276Q600 1377 647 1472H763Z" fill="#000" transform="translate(2423.4 2349.3) scale(0.02832 -0.02832)"/>
<text transform="translate(2471.8 2349.3) scale(0.9756 1)" font-family="Liberation Sans, sans-serif" font-size="59.4" fill="#000">Cells</text>
<text transform="translate(2723.1 2349.3) scale(0.9756 1)" font-family="Liberation Sans, sans-serif" font-size="59.4" fill="#000">Neural Retina</text>
<text transform="translate(1917.0 2465.7) scale(0.9756 1)" font-family="Liberation Sans, sans-serif" font-size="59.4" font-style="italic" fill="#000">HPRT</text>
<text transform="translate(2253.5 2465.7) scale(0.9756 1)" font-family="Liberation Sans, sans-serif" font-size="59.4" fill="#000">2</text>
<path d="M763 0H583V1147Q518 1085 412 1023Q307 961 223 930V1104Q374 1175 487 1276Q600 1377 647 1472H763Z" fill="#000" transform="translate(2285.7 2465.7) scale(0.02832 -0.02832)"/>
<text transform="translate(2318.0 2465.7) scale(0.9756 1)" font-family="Liberation Sans, sans-serif" font-size="59.4" fill="#000">.0</text>
<path d="M763 0H583V1147Q518 1085 412 1023Q307 961 223 930V1104Q374 1175 487 1276Q600 1377 647 1472H763Z" fill="#000" transform="translate(2366.4 2465.7) scale(0.02832 -0.02832)"/>
<text transform="translate(2416.2 2465.7) scale(0.9756 1)" font-family="Liberation Sans, sans-serif" font-size="59.4" fill="#000">+</text>
<text transform="translate(2467.7 2465.7) scale(0.9756 1)" font-family="Liberation Sans, sans-serif" font-size="59.4" fill="#000">0.5</text>
<path d="M763 0H583V1147Q518 1085 412 1023Q307 961 223 930V1104Q374 1175 487 1276Q600 1377 647 1472H763Z" fill="#000" transform="translate(2548.4 2465.7) scale(0.02832 -0.02832)"/>
<rect x="2418.4" y="2469.2" width="29.5" height="4.5" fill="#000"/>
<text transform="translate(2734.4 2465.7) scale(0.9756 1)" font-family="Liberation Sans, sans-serif" font-size="59.4" fill="#000">23.23</text>
<text transform="translate(2897.1 2465.7) scale(0.9756 1)" font-family="Liberation Sans, sans-serif" font-size="59.4" fill="#000">+</text>
<text transform="translate(2948.6 2465.7) scale(0.9756 1)" font-family="Liberation Sans, sans-serif" font-size="59.4" fill="#000">0.72</text>
<rect x="2899.3" y="2469.2" width="29.5" height="4.5" fill="#000"/>
<text transform="translate(1918.1 2537.8) scale(0.9756 1)" font-family="Liberation Sans, sans-serif" font-size="59.4" font-style="italic" fill="#000">OPN2</text>
<text transform="translate(2254.2 2537.8) scale(0.9756 1)" font-family="Liberation Sans, sans-serif" font-size="59.4" fill="#000">3</text>
<path d="M763 0H583V1147Q518 1085 412 1023Q307 961 223 930V1104Q374 1175 487 1276Q600 1377 647 1472H763Z" fill="#000" transform="translate(2286.4 2537.8) scale(0.02832 -0.02832)"/>
<text transform="translate(2318.7 2537.8) scale(0.9756 1)" font-family="Liberation Sans, sans-serif" font-size="59.4" fill="#000">.7</text>
<path d="M763 0H583V1147Q518 1085 412 1023Q307 961 223 930V1104Q374 1175 487 1276Q600 1377 647 1472H763Z" fill="#000" transform="translate(2367.1 2537.8) scale(0.02832 -0.02832)"/>
<text transform="translate(2416.9 2537.8) scale(0.9756 1)" font-family="Liberation Sans, sans-serif" font-size="59.4" fill="#000">+</text>
<text transform="translate(2468.4 2537.8) scale(0.9756 1)" font-family="Liberation Sans, sans-serif" font-size="59.4" fill="#000">2.30</text>
<rect x="2419.1" y="2541.3" width="29.5" height="4.5" fill="#000"/>
<path d="M763 0H583V1147Q518 1085 412 1023Q307 961 223 930V1104Q374 1175 487 1276Q600 1377 647 1472H763Z" fill="#000" transform="translate(2736.9 2537.8) scale(0.02832 -0.02832)"/>
<text transform="translate(2769.1 2537.8) scale(0.9756 1)" font-family="Liberation Sans, sans-serif" font-size="59.4" fill="#000">5.44</text>
<text transform="translate(2899.6 2537.8) scale(0.9756 1)" font-family="Liberation Sans, sans-serif" font-size="59.4" fill="#000">+</text>
<text transform="translate(2951.1 2537.8) scale(0.9756 1)" font-family="Liberation Sans, sans-serif" font-size="59.4" fill="#000">2.26</text>
<rect x="2901.8" y="2541.3" width="29.5" height="4.5" fill="#000"/>
<text transform="translate(1917.9 2615.2) scale(0.9756 1)" font-family="Liberation Sans, sans-serif" font-size="59.4" font-style="italic" fill="#000">OPN3</text>
<text transform="translate(2253.5 2615.2) scale(0.9756 1)" font-family="Liberation Sans, sans-serif" font-size="59.4" fill="#000">26.32</text>
<text transform="translate(2416.2 2615.2) scale(0.9756 1)" font-family="Liberation Sans, sans-serif" font-size="59.4" fill="#000">+</text>
<path d="M763 0H583V1147Q518 1085 412 1023Q307 961 223 930V1104Q374 1175 487 1276Q600 1377 647 1472H763Z" fill="#000" transform="translate(2467.7 2615.2) scale(0.02832 -0.02832)"/>
<text transform="translate(2500.0 2615.2) scale(0.9756 1)" font-family="Liberation Sans, sans-serif" font-size="59.4" fill="#000">.56</text>
<rect x="2418.4" y="2618.7" width="29.5" height="4.5" fill="#000"/>
<text transform="translate(2735.1 2615.2) scale(0.9756 1)" font-family="Liberation Sans, sans-serif" font-size="59.4" fill="#000">30.96</text>
<text transform="translate(2897.8 2615.2) scale(0.9756 1)" font-family="Liberation Sans, sans-serif" font-size="59.4" fill="#000">+</text>
<path d="M763 0H583V1147Q518 1085 412 1023Q307 961 223 930V1104Q374 1175 487 1276Q600 1377 647 1472H763Z" fill="#000" transform="translate(2949.3 2615.2) scale(0.02832 -0.02832)"/>
<text transform="translate(2981.6 2615.2) scale(0.9756 1)" font-family="Liberation Sans, sans-serif" font-size="59.4" fill="#000">.</text>
<path d="M763 0H583V1147Q518 1085 412 1023Q307 961 223 930V1104Q374 1175 487 1276Q600 1377 647 1472H763Z" fill="#000" transform="translate(2997.7 2615.2) scale(0.02832 -0.02832)"/>
<text transform="translate(3030.0 2615.2) scale(0.9756 1)" font-family="Liberation Sans, sans-serif" font-size="59.4" fill="#000">8</text>
<rect x="2900.0" y="2618.7" width="29.5" height="4.5" fill="#000"/>
<text transform="translate(1918.7 2691.5) scale(0.9756 1)" font-family="Liberation Sans, sans-serif" font-size="59.4" font-style="italic" fill="#000">OPN4</text>
<text transform="translate(2254.2 2691.5) scale(0.9756 1)" font-family="Liberation Sans, sans-serif" font-size="59.4" fill="#000">32.4</text>
<path d="M763 0H583V1147Q518 1085 412 1023Q307 961 223 930V1104Q374 1175 487 1276Q600 1377 647 1472H763Z" fill="#000" transform="translate(2367.1 2691.5) scale(0.02832 -0.02832)"/>
<text transform="translate(2416.9 2691.5) scale(0.9756 1)" font-family="Liberation Sans, sans-serif" font-size="59.4" fill="#000">+</text>
<path d="M763 0H583V1147Q518 1085 412 1023Q307 961 223 930V1104Q374 1175 487 1276Q600 1377 647 1472H763Z" fill="#000" transform="translate(2468.4 2691.5) scale(0.02832 -0.02832)"/>
<text transform="translate(2500.7 2691.5) scale(0.9756 1)" font-family="Liberation Sans, sans-serif" font-size="59.4" fill="#000">.57</text>
<rect x="2419.1" y="2695.0" width="29.5" height="4.5" fill="#000"/>
<text transform="translate(2734.4 2691.5) scale(0.9756 1)" font-family="Liberation Sans, sans-serif" font-size="59.4" fill="#000">29.36</text>
<text transform="translate(2897.1 2691.5) scale(0.9756 1)" font-family="Liberation Sans, sans-serif" font-size="59.4" fill="#000">+</text>
<path d="M763 0H583V1147Q518 1085 412 1023Q307 961 223 930V1104Q374 1175 487 1276Q600 1377 647 1472H763Z" fill="#000" transform="translate(2948.6 2691.5) scale(0.02832 -0.02832)"/>
<text transform="translate(2980.9 2691.5) scale(0.9756 1)" font-family="Liberation Sans, sans-serif" font-size="59.4" fill="#000">.65</text>
<rect x="2899.3" y="2695.0" width="29.5" height="4.5" fill="#000"/>
<text transform="translate(1917.6 2767.5) scale(0.9756 1)" font-family="Liberation Sans, sans-serif" font-size="59.4" font-style="italic" fill="#000">OPN5</text>
<text transform="translate(2254.2 2767.5) scale(0.9756 1)" font-family="Liberation Sans, sans-serif" font-size="59.4" fill="#000">33.</text>
<path d="M763 0H583V1147Q518 1085 412 1023Q307 961 223 930V1104Q374 1175 487 1276Q600 1377 647 1472H763Z" fill="#000" transform="translate(2334.8 2767.5) scale(0.02832 -0.02832)"/>
<text transform="translate(2367.1 2767.5) scale(0.9756 1)" font-family="Liberation Sans, sans-serif" font-size="59.4" fill="#000">9</text>
<text transform="translate(2416.9 2767.5) scale(0.9756 1)" font-family="Liberation Sans, sans-serif" font-size="59.4" fill="#000">+</text>
<text transform="translate(2468.4 2767.5) scale(0.9756 1)" font-family="Liberation Sans, sans-serif" font-size="59.4" fill="#000">2.2</text>
<path d="M763 0H583V1147Q518 1085 412 1023Q307 961 223 930V1104Q374 1175 487 1276Q600 1377 647 1472H763Z" fill="#000" transform="translate(2549.1 2767.5) scale(0.02832 -0.02832)"/>
<rect x="2419.1" y="2771.0" width="29.5" height="4.5" fill="#000"/>
<text transform="translate(2735.1 2767.5) scale(0.9756 1)" font-family="Liberation Sans, sans-serif" font-size="59.4" fill="#000">33.96</text>
<text transform="translate(2897.8 2767.5) scale(0.9756 1)" font-family="Liberation Sans, sans-serif" font-size="59.4" fill="#000">+</text>
<text transform="translate(2949.3 2767.5) scale(0.9756 1)" font-family="Liberation Sans, sans-serif" font-size="59.4" fill="#000">2.37</text>
<rect x="2900.0" y="2771.0" width="29.5" height="4.5" fill="#000"/>
<text transform="translate(1937.3 2843.0) scale(0.9756 1)" font-family="Liberation Sans, sans-serif" font-size="59.4" font-style="italic" fill="#000">RRH</text>
<text transform="translate(2253.5 2843.0) scale(0.9756 1)" font-family="Liberation Sans, sans-serif" font-size="59.4" fill="#000">29.83</text>
<text transform="translate(2416.2 2843.0) scale(0.9756 1)" font-family="Liberation Sans, sans-serif" font-size="59.4" fill="#000">+</text>
<path d="M763 0H583V1147Q518 1085 412 1023Q307 961 223 930V1104Q374 1175 487 1276Q600 1377 647 1472H763Z" fill="#000" transform="translate(2467.7 2843.0) scale(0.02832 -0.02832)"/>
<text transform="translate(2500.0 2843.0) scale(0.9756 1)" font-family="Liberation Sans, sans-serif" font-size="59.4" fill="#000">.20</text>
<rect x="2418.4" y="2846.5" width="29.5" height="4.5" fill="#000"/>
<text transform="translate(2734.4 2843.0) scale(0.9756 1)" font-family="Liberation Sans, sans-serif" font-size="59.4" fill="#000">24.00</text>
<text transform="translate(2897.1 2843.0) scale(0.9756 1)" font-family="Liberation Sans, sans-serif" font-size="59.4" fill="#000">+</text>
<text transform="translate(2948.6 2843.0) scale(0.9756 1)" font-family="Liberation Sans, sans-serif" font-size="59.4" fill="#000">2.</text>
<path d="M763 0H583V1147Q518 1085 412 1023Q307 961 223 930V1104Q374 1175 487 1276Q600 1377 647 1472H763Z" fill="#000" transform="translate(2997.0 2843.0) scale(0.02832 -0.02832)"/>
<text transform="translate(3029.3 2843.0) scale(0.9756 1)" font-family="Liberation Sans, sans-serif" font-size="59.4" fill="#000">8</text>
<rect x="2899.3" y="2846.5" width="29.5" height="4.5" fill="#000"/>
<text transform="translate(1877.8 2919.3) scale(0.9756 1)" font-family="Liberation Sans, sans-serif" font-size="59.4" font-style="italic" fill="#000">OPN</text>
<path d="M763 0H583V1147Q518 1085 412 1023Q307 961 223 930V1104Q374 1175 487 1276Q600 1377 647 1472H763Z" fill="#000" transform="translate(2000.5 2919.3) skewX(-12) scale(0.02832 -0.02832)"/>
<text transform="translate(2035.7 2919.3) scale(0.9756 1)" font-family="Liberation Sans, sans-serif" font-size="59.4" font-style="italic" fill="#000">SW</text>
<text transform="translate(2254.2 2919.3) scale(0.9756 1)" font-family="Liberation Sans, sans-serif" font-size="59.4" fill="#000">3</text>
<path d="M763 0H583V1147Q518 1085 412 1023Q307 961 223 930V1104Q374 1175 487 1276Q600 1377 647 1472H763Z" fill="#000" transform="translate(2286.4 2919.3) scale(0.02832 -0.02832)"/>
<text transform="translate(2318.7 2919.3) scale(0.9756 1)" font-family="Liberation Sans, sans-serif" font-size="59.4" fill="#000">.93</text>
<text transform="translate(2416.9 2919.3) scale(0.9756 1)" font-family="Liberation Sans, sans-serif" font-size="59.4" fill="#000">+</text>
<path d="M763 0H583V1147Q518 1085 412 1023Q307 961 223 930V1104Q374 1175 487 1276Q600 1377 647 1472H763Z" fill="#000" transform="translate(2468.4 2919.3) scale(0.02832 -0.02832)"/>
<text transform="translate(2500.7 2919.3) scale(0.9756 1)" font-family="Liberation Sans, sans-serif" font-size="59.4" fill="#000">.92</text>
<rect x="2419.1" y="2922.8" width="29.5" height="4.5" fill="#000"/>
<text transform="translate(2734.4 2919.3) scale(0.9756 1)" font-family="Liberation Sans, sans-serif" font-size="59.4" fill="#000">23.67</text>
<text transform="translate(2897.1 2919.3) scale(0.9756 1)" font-family="Liberation Sans, sans-serif" font-size="59.4" fill="#000">+</text>
<text transform="translate(2948.6 2919.3) scale(0.9756 1)" font-family="Liberation Sans, sans-serif" font-size="59.4" fill="#000">2.94</text>
<rect x="2899.3" y="2922.8" width="29.5" height="4.5" fill="#000"/>
</svg>
</body></html>
